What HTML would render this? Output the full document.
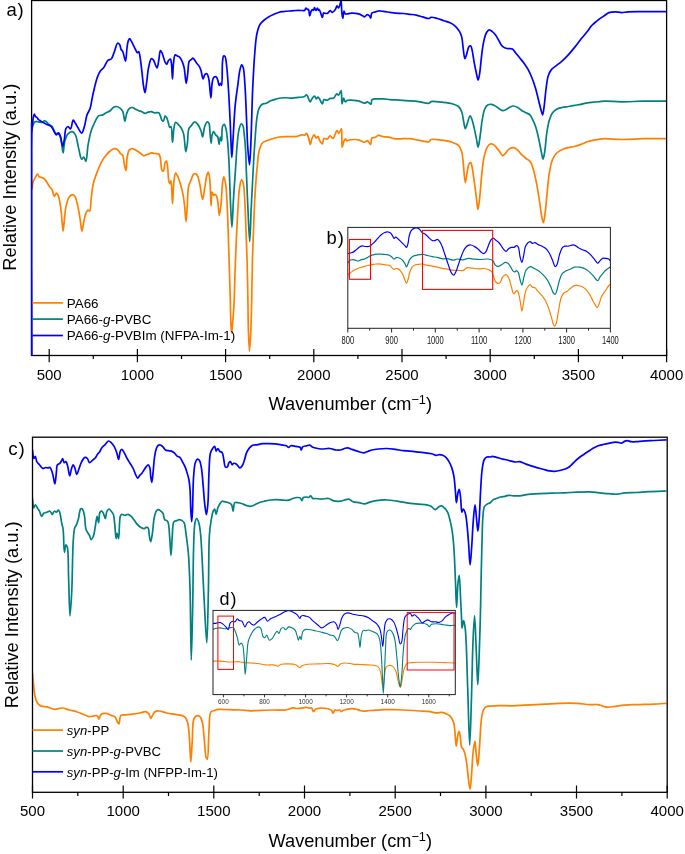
<!DOCTYPE html><html><head><meta charset="utf-8"><style>html,body{margin:0;padding:0;background:#fff;overflow:hidden}svg{display:block;will-change:transform}</style></head><body>
<svg width="685" height="854" viewBox="0 0 685 854" font-family="Liberation Sans, sans-serif">
<rect width="685" height="854" fill="#fff"/>
<defs><clipPath id="ct"><rect x="32" y="0" width="634" height="355.5"/></clipPath><clipPath id="cb"><rect x="32" y="437" width="634.5" height="355"/></clipPath><clipPath id="ci"><rect x="347.8" y="227.4" width="262.6" height="100.9"/></clipPath><clipPath id="cd"><rect x="213" y="610.4" width="242.3" height="84.2"/></clipPath></defs>
<path d="M32.10,189.00 C32.28,187.77 32.54,183.68 33.20,181.60 C33.72,179.96 34.56,178.69 35.30,177.40 C35.97,176.24 36.68,174.22 37.40,174.20 C38.09,174.18 38.69,176.49 39.50,177.00 C40.13,177.39 40.92,177.16 41.60,177.40 C42.32,177.65 43.04,178.01 43.70,178.50 C44.44,179.05 45.08,179.69 45.80,180.60 C46.83,181.90 47.89,184.18 49.00,185.80 C50.03,187.30 51.34,188.37 52.20,190.00 C53.17,191.84 53.47,196.29 54.30,196.40 C54.93,196.48 55.70,193.20 56.40,193.20 C57.10,193.20 57.91,194.95 58.50,196.40 C59.49,198.83 60.03,203.09 60.60,206.90 C61.28,211.40 61.65,217.31 62.10,221.70 C62.46,225.22 62.74,231.20 63.10,231.20 C63.50,231.20 63.94,223.55 64.40,219.60 C64.88,215.46 65.04,210.79 65.90,206.90 C66.66,203.46 67.59,199.49 69.00,197.40 C69.91,196.05 71.16,194.82 72.20,194.70 C73.05,194.61 73.98,195.14 74.70,196.00 C76.00,197.55 76.67,201.46 77.50,204.80 C78.56,209.07 79.44,214.96 80.20,219.60 C80.87,223.70 81.27,231.18 81.90,231.20 C82.48,231.21 83.11,224.77 83.80,221.70 C84.45,218.78 84.98,215.28 85.90,213.20 C86.50,211.84 87.25,210.27 88.00,210.10 C88.54,209.98 89.24,211.33 89.70,211.10 C90.87,210.52 90.63,202.87 91.20,198.50 C91.82,193.76 92.20,188.39 93.30,183.70 C94.34,179.28 96.00,174.97 97.50,171.10 C98.82,167.68 100.15,164.38 101.70,161.60 C103.03,159.22 104.49,157.14 106.00,155.30 C107.34,153.66 108.72,152.15 110.20,151.00 C111.53,149.97 113.07,148.73 114.40,148.60 C115.51,148.49 116.64,148.99 117.60,149.70 C118.79,150.58 119.72,153.00 120.70,153.90 C121.32,154.47 121.99,154.27 122.50,155.00 C123.62,156.60 123.84,162.14 124.50,165.00 C125.00,167.17 125.60,170.73 126.00,170.70 C126.59,170.65 126.45,161.71 127.10,158.00 C127.62,155.03 127.94,151.60 129.20,150.10 C130.03,149.11 131.34,148.59 132.40,148.60 C133.44,148.61 134.40,149.49 135.50,150.10 C136.84,150.84 138.40,151.83 139.80,152.80 C141.23,153.79 142.81,155.90 144.00,156.00 C144.80,156.07 145.31,155.23 146.10,154.90 C147.04,154.51 148.36,154.29 149.30,153.90 C150.09,153.57 150.61,152.90 151.40,152.80 C152.31,152.68 153.38,153.31 154.50,153.50 C155.81,153.72 157.82,153.22 158.80,154.00 C159.82,154.81 159.95,156.55 160.40,158.40 C161.11,161.32 160.86,168.24 161.90,170.00 C162.31,170.70 162.98,171.26 163.40,171.10 C164.32,170.74 164.32,164.26 165.10,162.60 C165.48,161.79 166.04,160.91 166.40,161.00 C167.01,161.15 167.25,164.48 167.60,166.90 C168.15,170.69 168.18,178.95 168.90,181.60 C169.19,182.65 169.58,183.72 169.90,183.70 C170.28,183.68 170.68,180.56 171.00,180.60 C171.85,180.72 172.01,203.80 172.50,203.80 C172.98,203.80 173.16,187.22 173.90,181.60 C174.36,178.11 174.74,173.37 175.60,173.20 C176.17,173.09 177.04,174.99 177.70,176.30 C178.65,178.19 179.48,180.99 180.30,183.70 C181.27,186.90 182.28,190.59 183.00,194.30 C183.78,198.30 184.21,202.53 184.70,206.90 C185.23,211.63 185.58,221.70 186.00,221.70 C186.42,221.70 186.79,212.27 187.20,206.90 C187.69,200.49 187.63,190.41 188.70,185.80 C189.25,183.42 190.04,182.42 190.80,180.60 C191.65,178.57 192.46,175.19 193.60,174.20 C194.24,173.64 195.06,173.39 195.70,173.60 C196.50,173.86 197.20,175.07 197.80,176.30 C198.76,178.28 199.20,181.57 199.90,184.80 C200.81,189.02 201.76,199.50 202.60,199.50 C203.35,199.50 204.00,191.85 204.70,187.90 C205.43,183.79 206.06,178.08 206.90,175.30 C207.34,173.85 207.88,172.06 208.30,172.10 C208.91,172.17 209.39,176.25 209.80,179.50 C210.56,185.57 210.65,205.89 211.10,205.90 C211.42,205.90 211.32,192.35 212.10,192.20 C212.49,192.13 212.96,195.11 213.60,195.30 C214.09,195.45 214.79,194.16 215.30,194.30 C215.98,194.49 216.55,196.10 217.00,197.40 C217.65,199.30 217.84,202.11 218.20,204.80 C218.63,207.99 218.83,215.29 219.30,215.30 C219.77,215.31 220.52,208.92 221.00,204.80 C221.68,198.99 221.84,188.80 222.50,183.70 C222.88,180.76 223.29,176.81 223.80,176.80 C224.37,176.79 225.27,181.69 225.80,185.20 C226.66,190.91 226.88,199.84 227.30,208.00 C227.78,217.43 228.04,227.77 228.40,238.50 C228.80,250.47 229.26,265.35 229.60,276.50 C229.87,285.27 230.10,292.30 230.30,300.00 C230.50,307.45 230.51,315.93 230.80,322.00 C231.01,326.30 231.30,333.00 231.60,333.00 C231.87,333.00 232.23,326.70 232.50,324.00 C232.72,321.80 232.90,320.54 233.10,318.00 C233.45,313.61 233.91,306.40 234.20,300.00 C234.53,292.69 234.60,285.27 234.90,276.50 C235.29,265.35 235.85,250.47 236.40,238.50 C236.89,227.77 237.42,217.06 238.00,208.00 C238.47,200.72 238.69,193.46 239.50,188.30 C240.03,184.89 240.72,179.98 241.50,179.90 C242.04,179.84 242.82,181.93 243.30,183.70 C244.27,187.24 244.39,194.00 244.80,200.40 C245.36,209.04 245.62,220.74 246.00,230.90 C246.38,241.04 246.79,250.55 247.10,261.30 C247.44,273.42 247.68,287.81 247.90,300.00 C248.10,310.91 248.07,321.78 248.40,331.00 C248.66,338.43 249.10,351.10 249.50,351.10 C249.90,351.10 250.45,338.43 250.80,331.00 C251.23,321.79 251.44,310.91 251.70,300.00 C251.99,287.82 252.07,273.42 252.40,261.30 C252.69,250.55 253.12,241.04 253.50,230.90 C253.88,220.74 254.20,209.83 254.70,200.40 C255.13,192.25 255.69,183.93 256.20,177.60 C256.56,173.08 256.92,169.90 257.30,166.00 C257.69,162.03 257.93,157.30 258.50,154.00 C258.91,151.64 259.34,149.85 260.00,148.00 C260.60,146.31 261.11,144.51 262.20,143.30 C263.26,142.13 264.81,141.53 266.40,140.80 C268.25,139.95 270.58,139.33 272.70,138.70 C274.82,138.07 276.80,137.36 279.10,137.00 C281.69,136.60 285.52,136.65 287.50,136.60 C288.58,136.57 288.95,136.62 290.00,136.60 C291.80,136.56 295.20,136.69 297.30,136.30 C298.98,135.99 300.37,134.95 301.70,134.80 C302.75,134.68 303.80,135.37 304.60,135.10 C305.34,134.85 305.85,133.32 306.40,133.40 C307.07,133.50 307.64,135.25 308.20,136.60 C309.03,138.63 309.75,144.61 310.40,144.60 C310.96,144.60 311.22,140.52 311.90,138.80 C312.49,137.30 313.34,134.83 314.10,134.80 C314.81,134.77 315.56,138.00 316.30,138.10 C316.86,138.17 317.49,136.49 318.00,136.60 C318.75,136.77 319.11,139.74 319.90,141.00 C320.61,142.13 321.76,144.05 322.40,143.90 C323.18,143.72 322.88,139.00 323.90,138.40 C324.69,137.93 326.22,139.51 327.20,139.20 C328.32,138.85 329.08,135.98 330.10,135.90 C331.06,135.83 332.15,138.60 333.10,138.40 C334.52,138.10 335.88,130.57 337.00,130.50 C337.70,130.46 338.25,133.43 338.90,133.40 C339.71,133.36 340.81,128.47 341.40,128.60 C342.50,128.85 341.35,147.41 342.10,147.50 C342.55,147.56 343.27,142.55 344.00,141.00 C344.46,140.03 345.01,138.79 345.50,138.80 C345.98,138.81 346.35,140.86 346.90,141.00 C347.34,141.12 347.71,140.42 348.40,140.20 C349.68,139.80 352.40,139.55 354.20,139.50 C355.77,139.46 357.06,139.42 358.60,139.80 C360.46,140.26 362.90,142.49 364.50,142.40 C365.66,142.33 366.48,140.54 367.40,140.70 C368.53,140.90 369.87,144.79 370.60,144.60 C371.44,144.38 370.71,139.23 371.80,138.10 C372.61,137.26 374.30,137.76 375.40,137.30 C376.46,136.85 377.15,135.60 378.30,135.40 C379.72,135.15 381.58,136.29 383.40,136.60 C385.45,136.95 388.08,136.88 390.00,137.30 C391.55,137.64 392.42,138.42 394.10,138.70 C396.58,139.11 400.75,138.70 403.60,138.70 C405.94,138.70 407.73,138.50 410.00,138.70 C412.62,138.93 415.43,139.73 418.40,140.20 C421.72,140.73 426.91,142.42 429.00,141.70 C430.11,141.31 429.99,139.93 431.10,139.50 C433.17,138.69 438.11,139.74 441.60,140.20 C445.14,140.67 449.18,141.28 452.20,142.30 C454.63,143.12 456.92,143.83 458.50,145.40 C460.10,146.99 460.93,149.32 461.70,151.80 C462.65,154.87 462.69,158.44 463.20,162.60 C463.89,168.26 464.53,182.67 465.30,182.70 C465.83,182.72 466.37,176.36 467.00,173.20 C467.63,170.03 468.03,165.24 469.10,163.70 C469.59,163.00 470.33,162.41 470.80,162.60 C471.65,162.93 471.90,166.49 472.40,169.00 C473.10,172.48 473.67,177.09 474.30,181.60 C475.03,186.82 475.85,193.48 476.50,198.50 C477.02,202.53 477.38,209.39 477.90,209.40 C478.42,209.41 479.07,202.82 479.60,198.50 C480.37,192.22 480.94,182.42 481.70,175.30 C482.35,169.22 482.76,163.37 483.80,158.40 C484.64,154.36 485.59,150.13 487.00,147.60 C487.92,145.94 489.01,144.44 490.20,144.00 C491.16,143.64 492.33,143.92 493.30,144.40 C494.46,144.97 495.47,146.42 496.50,147.60 C497.61,148.87 498.69,150.43 499.70,151.80 C500.65,153.09 501.43,155.42 502.40,155.60 C503.18,155.74 504.11,154.63 504.90,153.90 C505.82,153.05 506.60,151.63 507.50,150.70 C508.31,149.86 509.00,149.01 510.00,148.50 C511.10,147.94 512.65,147.38 513.90,147.60 C515.23,147.84 516.47,149.03 517.70,150.10 C519.15,151.37 520.45,153.46 521.90,154.90 C523.25,156.24 524.69,157.34 526.10,158.50 C527.49,159.64 529.15,160.25 530.30,161.80 C531.78,163.79 532.54,166.88 533.50,170.00 C534.71,173.94 535.66,178.88 536.60,183.70 C537.64,189.02 538.52,194.96 539.40,200.60 C540.28,206.23 541.03,213.50 541.90,217.50 C542.39,219.75 542.93,222.72 543.40,222.70 C544.02,222.67 544.57,217.00 545.10,213.20 C545.88,207.58 546.48,199.02 547.20,192.20 C547.88,185.71 548.31,178.99 549.30,173.20 C550.15,168.23 550.96,163.12 552.50,159.50 C553.64,156.81 554.92,154.73 556.70,153.00 C558.44,151.32 560.93,150.12 563.00,149.20 C564.79,148.40 566.44,148.04 568.30,147.60 C570.30,147.13 572.51,147.02 574.60,146.50 C576.74,145.96 578.89,145.20 581.00,144.40 C583.13,143.60 585.17,142.40 587.30,141.70 C589.37,141.02 591.49,140.63 593.60,140.20 C595.69,139.77 597.91,139.35 599.90,139.10 C601.68,138.87 602.81,138.73 605.00,138.70 C608.95,138.64 615.74,139.47 621.60,139.50 C628.19,139.53 635.41,138.84 642.60,138.70 C650.19,138.56 662.10,138.70 666.00,138.70" fill="none" stroke="#ff8000" stroke-width="1.7" stroke-linejoin="round" stroke-linecap="round" clip-path="url(#ct)"/>
<path d="M31.70,131.00 C31.88,130.17 32.34,127.50 32.80,126.00 C33.20,124.71 33.61,123.24 34.20,122.50 C34.58,122.02 34.95,121.75 35.50,121.60 C36.25,121.39 37.34,121.70 38.40,121.80 C39.69,121.92 41.67,122.64 42.70,122.30 C43.44,122.06 43.73,120.94 44.30,120.80 C44.78,120.68 45.25,120.89 45.80,121.20 C46.73,121.74 47.88,123.49 49.00,124.40 C50.03,125.23 51.26,125.44 52.20,126.50 C53.47,127.94 53.89,131.38 55.30,132.80 C56.45,133.96 58.48,133.62 59.50,134.90 C60.89,136.63 61.01,140.40 61.60,143.30 C62.22,146.36 62.59,152.80 63.10,152.80 C63.66,152.80 63.83,144.56 64.80,141.20 C65.60,138.43 66.51,135.50 68.00,133.90 C69.15,132.67 70.96,131.51 72.20,131.70 C73.42,131.89 74.50,133.31 75.40,134.90 C76.92,137.61 77.43,143.47 78.50,147.60 C79.53,151.56 80.42,158.88 81.70,159.20 C82.35,159.36 83.16,156.90 83.80,157.00 C84.60,157.12 85.31,161.40 85.90,161.30 C86.98,161.12 87.10,150.58 88.00,145.40 C88.88,140.39 89.93,134.72 91.20,130.70 C92.13,127.76 93.09,125.73 94.30,123.30 C95.55,120.79 96.85,117.20 98.60,115.90 C99.84,114.98 101.54,115.44 102.80,114.90 C103.99,114.39 104.84,113.47 106.00,112.80 C107.29,112.06 108.97,111.60 110.20,110.70 C111.40,109.82 112.16,108.20 113.30,107.50 C114.29,106.89 115.44,106.44 116.50,106.50 C117.58,106.56 118.72,107.16 119.70,107.90 C120.86,108.78 121.99,110.03 122.80,111.70 C123.94,114.06 124.23,121.20 124.90,121.20 C125.49,121.20 125.81,116.01 126.60,113.80 C127.29,111.87 128.03,109.62 129.20,108.60 C130.09,107.82 131.36,107.41 132.40,107.50 C133.46,107.59 134.45,108.67 135.50,109.20 C136.55,109.73 137.62,110.28 138.70,110.70 C139.75,111.11 140.86,111.26 141.90,111.70 C142.96,112.15 143.94,113.34 145.00,113.40 C146.04,113.46 147.11,112.38 148.20,112.10 C149.25,111.83 150.35,111.59 151.40,111.70 C152.46,111.81 153.36,112.60 154.50,112.80 C155.80,113.02 157.81,112.20 158.80,112.80 C159.69,113.34 159.91,114.76 160.40,115.90 C160.96,117.20 161.22,119.32 161.90,120.20 C162.33,120.75 162.96,121.35 163.40,121.20 C164.17,120.93 164.39,116.03 165.10,115.90 C165.60,115.81 166.32,117.12 166.80,118.00 C167.42,119.14 167.74,120.79 168.20,122.30 C168.71,123.95 169.01,127.28 169.70,127.50 C170.08,127.62 170.63,126.34 171.00,126.50 C172.14,127.00 172.00,142.30 172.50,142.30 C172.97,142.30 173.22,132.27 173.90,128.60 C174.37,126.07 174.66,122.61 175.60,122.30 C176.27,122.08 177.36,123.59 178.20,124.40 C179.13,125.30 180.09,126.20 180.90,127.50 C181.95,129.19 182.87,131.17 183.60,133.90 C184.78,138.31 185.04,151.78 185.80,151.80 C186.32,151.82 186.93,146.53 187.40,143.30 C188.01,139.08 187.65,131.62 188.90,128.60 C189.56,127.01 190.59,126.49 191.50,125.40 C192.48,124.23 193.51,121.90 194.60,121.80 C195.62,121.71 196.84,123.21 197.80,124.40 C199.05,125.95 200.19,128.55 201.00,130.70 C201.77,132.76 202.06,137.01 202.60,137.00 C203.29,136.98 203.69,129.25 204.70,126.50 C205.41,124.56 206.43,121.95 207.30,121.80 C207.87,121.70 208.57,122.46 209.00,123.30 C209.89,125.03 209.66,129.55 210.00,132.80 C210.36,136.21 210.73,143.30 211.10,143.30 C211.43,143.30 211.50,137.00 212.10,134.90 C212.49,133.54 213.02,131.74 213.60,131.70 C214.21,131.66 214.95,133.98 215.70,134.90 C216.36,135.71 217.27,135.97 217.80,137.00 C218.65,138.64 218.67,144.40 219.10,144.40 C219.53,144.40 219.91,137.03 220.40,137.00 C220.77,136.98 221.28,141.04 221.60,141.00 C222.19,140.93 221.49,129.09 222.50,126.50 C222.93,125.38 223.69,124.32 224.20,124.40 C224.86,124.50 225.43,126.85 225.90,128.60 C226.62,131.28 226.96,134.99 227.40,139.10 C228.02,144.91 228.58,154.50 228.90,160.20 C229.12,164.08 229.14,165.83 229.30,170.00 C229.58,177.34 229.95,190.60 230.40,200.40 C230.82,209.59 231.40,227.10 231.90,227.10 C232.40,227.10 232.88,208.95 233.40,200.40 C233.88,192.50 234.43,184.48 234.90,177.60 C235.29,171.91 235.66,167.10 236.00,162.00 C236.33,157.10 236.45,152.66 236.90,147.60 C237.41,141.93 237.97,133.85 239.00,129.60 C239.59,127.16 240.25,124.23 241.10,124.00 C241.61,123.86 242.34,124.59 242.80,125.40 C243.76,127.08 243.86,131.27 244.30,134.90 C244.88,139.72 245.37,146.06 245.70,151.80 C246.04,157.75 246.03,162.83 246.30,170.00 C246.69,180.36 247.31,195.73 247.90,208.00 C248.45,219.52 249.15,241.50 249.70,241.50 C250.25,241.50 250.71,218.09 251.20,208.00 C251.61,199.67 252.00,192.83 252.40,185.20 C252.80,177.50 253.18,169.32 253.60,162.00 C253.98,155.43 254.31,150.00 254.80,143.30 C255.37,135.50 255.93,124.36 256.90,118.00 C257.50,114.08 257.88,111.04 259.00,108.60 C259.83,106.78 260.87,105.17 262.20,104.30 C263.39,103.52 265.04,103.85 266.40,103.30 C267.85,102.71 269.08,101.49 270.60,100.80 C272.23,100.07 274.12,99.57 275.90,99.10 C277.65,98.64 279.22,98.20 281.20,98.00 C283.67,97.75 288.60,97.88 289.60,98.00 C289.82,98.03 289.78,98.08 290.00,98.10 C291.03,98.19 296.18,97.73 298.80,97.40 C300.94,97.13 303.27,97.01 304.60,96.40 C305.44,96.01 305.86,94.84 306.40,94.90 C306.93,94.96 307.32,95.91 307.80,96.70 C308.54,97.94 309.33,101.75 310.10,101.80 C310.70,101.84 311.20,99.84 311.90,98.90 C312.65,97.90 313.75,95.93 314.50,96.00 C315.20,96.06 315.67,98.84 316.30,98.90 C316.84,98.95 317.43,96.97 318.00,97.00 C318.64,97.03 319.25,98.60 319.90,99.60 C320.71,100.86 321.73,104.06 322.40,104.00 C323.05,103.94 322.97,100.13 323.90,99.60 C324.69,99.15 326.17,100.49 327.20,100.30 C328.24,100.10 329.02,98.77 330.10,98.40 C331.21,98.02 332.76,98.71 333.80,98.10 C335.03,97.38 335.75,93.96 336.70,93.80 C337.34,93.69 338.00,95.34 338.60,95.20 C339.50,94.99 340.52,90.37 341.10,90.50 C342.03,90.70 341.38,103.93 342.00,104.00 C342.42,104.05 343.10,98.13 343.70,98.10 C344.18,98.07 344.44,101.55 345.20,101.80 C345.85,102.02 346.67,100.58 347.70,100.30 C349.06,99.92 351.05,100.22 352.80,100.30 C354.67,100.38 356.69,100.34 358.60,100.80 C360.60,101.28 362.89,103.25 364.50,103.20 C365.65,103.16 366.40,101.72 367.40,101.80 C368.56,101.89 370.23,104.60 371.00,104.30 C371.81,103.98 371.00,100.52 372.00,99.60 C373.08,98.60 375.71,99.02 377.60,98.90 C379.51,98.78 381.41,98.79 383.40,98.90 C385.53,99.01 387.60,99.41 390.00,99.60 C392.85,99.83 396.17,99.91 399.40,100.10 C402.83,100.30 406.67,100.53 410.00,100.80 C412.96,101.04 415.44,101.22 418.40,101.60 C421.73,102.03 426.89,103.86 429.00,103.30 C430.06,103.02 430.04,101.94 431.10,101.60 C433.19,100.93 438.10,101.85 441.60,102.20 C445.13,102.55 449.18,102.83 452.20,103.70 C454.63,104.40 456.90,105.10 458.50,106.50 C460.01,107.82 460.87,109.57 461.70,111.70 C462.81,114.53 463.13,119.23 463.80,122.30 C464.32,124.68 464.70,128.55 465.30,128.60 C465.80,128.64 466.37,126.05 467.00,124.40 C467.90,122.07 469.11,115.95 470.10,115.90 C470.82,115.86 471.58,118.49 472.20,120.20 C473.04,122.50 473.62,125.64 474.30,128.60 C475.06,131.90 475.83,135.84 476.50,139.10 C477.08,141.95 477.55,147.10 478.10,147.10 C478.71,147.10 479.39,140.80 480.00,137.00 C480.78,132.12 481.28,125.26 482.20,120.20 C482.97,115.96 483.54,111.31 484.90,108.60 C485.78,106.85 486.90,105.48 488.10,104.80 C489.05,104.26 490.17,104.21 491.20,104.30 C492.27,104.39 493.36,104.89 494.40,105.40 C495.50,105.94 496.59,106.78 497.60,107.50 C498.55,108.18 499.38,109.05 500.30,109.60 C501.12,110.09 501.91,110.66 502.80,110.70 C503.79,110.74 504.96,110.11 506.00,109.60 C507.10,109.06 508.02,108.09 509.20,107.50 C510.47,106.87 511.99,106.01 513.40,106.00 C514.82,105.99 516.33,106.76 517.70,107.50 C519.17,108.29 520.46,109.80 521.90,110.70 C523.26,111.55 524.74,112.09 526.10,112.80 C527.41,113.49 528.87,113.90 529.90,114.90 C531.00,115.96 531.57,117.47 532.40,119.10 C533.47,121.19 534.63,123.66 535.60,126.50 C536.83,130.10 537.85,134.88 538.80,139.10 C539.75,143.31 540.52,148.15 541.30,151.80 C541.90,154.57 542.43,159.10 543.00,159.10 C543.57,159.10 544.18,154.82 544.70,151.80 C545.53,146.97 545.93,138.47 546.80,132.80 C547.52,128.15 548.18,123.79 549.30,120.20 C550.19,117.35 551.09,114.71 552.50,112.80 C553.67,111.22 555.12,110.08 556.70,109.20 C558.29,108.31 560.14,107.94 562.00,107.50 C563.99,107.03 566.20,106.85 568.30,106.50 C570.40,106.15 572.49,105.77 574.60,105.40 C576.72,105.03 578.88,104.72 581.00,104.30 C583.11,103.88 585.19,103.25 587.30,102.90 C589.39,102.55 591.50,102.42 593.60,102.20 C595.70,101.98 597.91,101.77 599.90,101.60 C601.69,101.44 602.81,101.25 605.00,101.20 C608.94,101.12 615.74,101.78 621.60,101.80 C628.19,101.82 635.41,101.30 642.60,101.20 C650.19,101.09 662.10,101.20 666.00,101.20" fill="none" stroke="#008080" stroke-width="1.7" stroke-linejoin="round" stroke-linecap="round" clip-path="url(#ct)"/>
<path d="M31.60,355.00 C31.60,317.67 30.16,153.42 31.60,131.00 C31.85,127.02 32.20,126.33 32.50,124.00 C32.80,121.67 32.97,118.79 33.40,117.00 C33.68,115.84 34.03,114.22 34.40,114.20 C34.74,114.18 35.01,115.93 35.50,116.50 C35.91,116.98 36.55,117.06 37.00,117.50 C37.53,118.02 37.86,118.99 38.40,119.50 C38.88,119.95 39.40,120.11 40.00,120.50 C40.79,121.01 41.68,121.71 42.70,122.30 C43.93,123.01 45.50,123.70 46.90,124.40 C48.30,125.10 49.92,125.41 51.10,126.50 C52.46,127.75 53.33,130.28 54.30,131.80 C55.06,132.98 55.65,134.83 56.40,134.90 C57.06,134.96 57.86,132.70 58.50,132.80 C59.30,132.93 59.99,135.27 60.60,137.00 C61.48,139.49 62.03,146.50 62.70,146.50 C63.29,146.50 63.90,141.79 64.40,139.10 C64.99,135.92 64.86,130.68 65.90,128.60 C66.45,127.50 67.27,126.50 68.00,126.50 C68.80,126.50 69.77,129.18 70.50,129.00 C71.67,128.71 72.15,120.37 73.20,120.20 C73.87,120.09 74.63,122.11 75.40,123.30 C76.38,124.81 77.42,126.92 78.50,128.60 C79.53,130.21 80.76,133.31 81.70,133.20 C82.77,133.08 83.60,129.08 84.40,126.50 C85.43,123.20 85.86,118.13 87.00,114.90 C87.87,112.42 89.28,111.03 90.10,108.60 C91.12,105.58 91.48,101.43 92.20,98.00 C92.88,94.74 93.48,91.81 94.30,88.50 C95.21,84.81 96.25,80.13 97.50,76.90 C98.46,74.43 99.50,72.26 100.70,70.60 C101.65,69.29 102.77,68.84 103.80,67.50 C105.24,65.63 106.52,61.41 108.10,60.10 C109.08,59.29 110.30,59.84 111.20,59.00 C112.60,57.69 113.36,54.16 114.40,51.60 C115.50,48.90 116.38,43.57 117.60,43.20 C118.26,43.00 119.15,43.93 119.70,44.70 C120.46,45.77 120.46,48.27 121.10,49.50 C121.57,50.40 122.27,50.57 122.80,51.60 C123.82,53.57 124.82,61.16 125.50,61.10 C126.29,61.04 126.47,51.67 127.00,48.00 C127.38,45.33 127.60,42.79 128.20,41.10 C128.58,40.02 129.09,38.62 129.60,38.60 C130.12,38.58 130.74,40.14 131.30,41.10 C132.00,42.30 132.70,43.90 133.40,45.30 C134.10,46.70 134.83,48.20 135.50,49.50 C136.09,50.64 136.56,52.55 137.20,52.70 C137.66,52.81 138.28,51.45 138.70,51.60 C139.49,51.89 139.74,55.45 140.20,58.00 C140.86,61.69 141.34,67.05 141.90,71.70 C142.48,76.51 142.95,82.54 143.60,86.40 C144.03,88.95 144.54,92.71 145.00,92.70 C145.58,92.68 146.15,86.00 146.70,82.20 C147.35,77.72 147.66,71.75 148.60,67.50 C149.34,64.13 150.21,59.00 151.40,58.60 C152.03,58.39 152.89,59.33 153.50,60.10 C154.40,61.24 154.91,63.88 155.60,65.30 C156.11,66.34 156.66,67.97 157.10,67.90 C157.82,67.79 158.27,62.83 158.80,60.10 C159.38,57.10 159.58,50.79 160.40,50.60 C160.82,50.50 161.45,51.84 161.90,52.70 C162.49,53.83 162.90,55.41 163.40,56.90 C163.96,58.56 164.39,60.88 165.10,62.20 C165.60,63.12 166.31,64.37 166.80,64.30 C167.36,64.22 167.57,62.00 168.20,61.10 C168.79,60.26 169.87,58.84 170.40,59.00 C171.03,59.19 171.12,61.34 171.40,63.20 C171.95,66.77 172.15,79.00 172.50,79.00 C172.85,79.00 172.91,67.62 173.50,63.20 C173.93,59.94 174.13,55.31 175.20,54.80 C175.76,54.53 176.60,55.55 177.30,55.90 C178.00,56.25 178.74,56.31 179.40,56.90 C180.36,57.76 181.26,59.50 182.00,61.10 C182.87,62.96 183.50,64.86 184.10,67.50 C185.03,71.56 185.53,83.29 186.20,83.30 C186.72,83.31 187.22,77.20 187.70,73.80 C188.26,69.88 188.06,63.28 189.30,61.10 C189.88,60.09 190.86,59.96 191.50,59.40 C192.04,58.93 192.42,57.98 192.90,58.00 C193.46,58.03 194.02,59.32 194.60,60.10 C195.28,61.02 195.94,62.17 196.70,63.20 C197.50,64.28 198.59,65.20 199.30,66.40 C200.04,67.66 200.46,68.94 201.00,70.60 C201.75,72.90 202.38,78.96 203.10,79.00 C203.62,79.03 203.90,75.65 204.70,74.80 C205.29,74.17 206.29,73.55 206.90,73.80 C207.82,74.19 208.26,76.68 208.80,79.00 C209.81,83.31 210.33,98.01 210.90,98.00 C211.40,97.99 211.46,87.04 212.10,83.30 C212.50,80.94 212.65,78.57 213.60,77.60 C214.23,76.96 215.43,76.61 216.10,76.90 C216.89,77.24 217.33,78.87 217.80,80.10 C218.38,81.61 218.54,85.31 219.10,85.40 C219.48,85.46 219.98,83.29 220.40,83.30 C220.81,83.31 221.27,85.48 221.60,85.40 C222.61,85.15 221.92,67.23 222.50,62.00 C222.79,59.33 222.85,56.43 223.60,56.00 C223.97,55.79 224.60,56.02 225.00,56.50 C226.10,57.82 226.29,63.23 226.80,67.50 C227.50,73.37 227.90,80.78 228.40,88.50 C229.02,97.98 229.63,110.28 230.10,120.20 C230.51,128.97 230.77,138.15 231.10,145.00 C231.33,149.84 231.53,157.40 231.80,157.40 C232.07,157.40 232.44,148.91 232.70,145.00 C232.93,141.49 233.04,139.22 233.30,135.00 C233.75,127.75 234.33,114.42 235.20,105.40 C235.93,97.76 237.03,90.70 237.90,84.30 C238.62,78.96 239.12,73.11 240.00,69.60 C240.51,67.56 241.09,64.95 241.70,64.90 C242.17,64.86 242.78,66.19 243.20,67.50 C244.20,70.61 244.42,77.82 244.90,84.30 C245.56,93.18 245.92,105.36 246.40,115.90 C246.88,126.46 247.16,138.64 247.80,147.60 C248.27,154.21 249.01,164.81 249.50,164.80 C250.02,164.79 250.39,153.30 250.80,145.00 C251.49,131.00 251.93,105.19 252.70,88.50 C253.31,75.21 253.95,62.75 254.80,52.70 C255.42,45.36 255.75,38.90 256.90,33.70 C257.73,29.94 258.61,26.61 260.10,24.20 C261.25,22.35 262.85,21.25 264.30,20.00 C265.66,18.83 266.97,17.83 268.50,16.90 C270.12,15.91 272.02,15.09 273.80,14.30 C275.55,13.52 277.41,12.65 279.10,12.20 C280.56,11.81 281.76,11.78 283.30,11.60 C285.19,11.38 287.50,11.18 289.60,11.00 C291.70,10.82 293.79,10.58 295.90,10.50 C298.02,10.42 300.70,10.50 302.30,10.50 C303.26,10.50 304.00,10.85 304.60,10.50 C305.27,10.11 305.47,8.07 306.00,8.00 C306.45,7.94 307.01,9.30 307.50,9.50 C307.84,9.64 308.22,9.26 308.50,9.50 C309.23,10.11 309.21,15.97 309.70,16.00 C310.13,16.02 310.57,12.14 311.20,11.00 C311.59,10.30 312.09,9.51 312.50,9.50 C312.85,9.49 313.21,10.57 313.50,10.50 C313.93,10.40 314.09,7.63 314.50,7.60 C314.92,7.57 315.50,10.49 316.00,10.50 C316.47,10.51 316.98,7.98 317.40,8.00 C317.81,8.02 318.14,10.46 318.50,10.50 C318.74,10.52 318.95,9.47 319.20,9.50 C319.64,9.55 320.20,11.75 320.70,13.00 C321.26,14.40 321.91,17.52 322.40,17.50 C322.88,17.48 322.79,13.50 323.60,13.00 C324.19,12.64 325.24,13.52 326.00,13.50 C326.70,13.49 327.38,13.39 328.00,13.00 C328.78,12.51 329.36,10.56 330.10,10.50 C330.80,10.44 331.52,12.42 332.30,12.40 C333.23,12.37 334.51,10.61 335.30,9.50 C336.08,8.41 336.40,5.85 337.00,5.80 C337.48,5.76 338.02,8.06 338.50,8.00 C339.18,7.92 339.94,4.27 340.40,2.90 C340.71,1.99 340.91,0.58 341.10,0.60 C341.53,0.65 341.43,9.17 341.80,12.40 C342.06,14.68 342.45,18.20 342.80,18.20 C343.18,18.20 343.47,11.06 344.00,11.00 C344.35,10.96 344.58,13.48 345.20,13.90 C345.67,14.22 346.28,13.97 347.00,13.90 C348.13,13.80 349.67,13.16 351.30,13.10 C353.41,13.02 356.52,13.31 358.60,13.90 C360.30,14.38 361.92,15.46 363.00,16.00 C363.64,16.32 363.93,16.85 364.50,16.80 C365.33,16.73 366.50,14.63 367.40,14.60 C368.15,14.58 368.95,15.40 369.50,16.00 C370.05,16.60 370.36,18.25 370.70,18.20 C371.19,18.13 370.90,14.11 371.80,13.10 C372.52,12.29 373.92,12.35 375.00,12.00 C376.09,11.65 377.07,11.13 378.30,11.00 C379.80,10.84 381.59,11.19 383.40,11.40 C385.46,11.64 387.93,12.10 390.00,12.40 C391.84,12.66 393.26,12.92 395.20,13.10 C397.66,13.32 400.99,13.28 403.60,13.50 C405.88,13.70 407.88,14.02 410.00,14.30 C412.11,14.58 414.20,14.77 416.30,15.20 C418.44,15.64 420.57,16.35 422.70,16.90 C424.81,17.45 427.49,18.71 429.00,18.50 C429.92,18.37 430.18,17.45 431.10,17.30 C432.61,17.05 435.31,17.95 437.40,18.50 C439.55,19.07 441.67,19.98 443.80,20.70 C445.91,21.41 448.15,21.85 450.10,22.80 C452.01,23.73 453.84,24.86 455.40,26.30 C457.01,27.78 458.53,29.75 459.60,31.60 C460.58,33.30 461.14,34.75 461.70,36.90 C462.50,39.98 462.65,44.77 463.20,48.50 C463.72,51.99 464.17,58.51 464.90,58.60 C465.37,58.65 465.94,56.33 466.50,54.80 C467.31,52.56 467.95,47.47 469.10,46.40 C469.61,45.92 470.34,45.74 470.80,46.00 C471.56,46.44 471.75,48.67 472.20,50.60 C472.94,53.75 473.55,59.19 474.30,63.20 C474.99,66.89 475.79,70.73 476.50,73.80 C477.05,76.18 477.58,80.10 478.10,80.10 C478.62,80.10 479.13,76.48 479.60,73.80 C480.40,69.19 480.93,60.61 481.70,54.80 C482.35,49.85 482.88,45.08 483.80,41.10 C484.53,37.93 485.24,34.66 486.40,32.70 C487.17,31.40 488.10,30.06 489.10,29.90 C490.07,29.75 491.30,30.85 492.30,31.60 C493.41,32.44 494.43,33.54 495.40,34.80 C496.55,36.29 497.62,38.39 498.60,40.10 C499.50,41.68 500.13,43.43 501.10,44.70 C501.93,45.80 502.87,46.76 503.90,47.40 C504.85,47.99 505.80,48.25 507.00,48.50 C508.53,48.82 510.97,48.15 512.40,48.90 C513.76,49.61 514.38,51.33 515.50,52.70 C516.82,54.32 518.38,56.24 519.80,58.00 C521.21,59.74 522.64,61.34 524.00,63.20 C525.45,65.19 526.92,67.27 528.20,69.60 C529.61,72.16 530.82,75.01 532.00,78.00 C533.30,81.28 534.50,84.81 535.60,88.50 C536.79,92.51 537.85,97.40 538.80,101.20 C539.58,104.29 540.20,107.13 540.90,109.60 C541.46,111.58 542.11,114.93 542.60,114.90 C543.17,114.86 543.54,110.55 544.00,107.50 C544.73,102.64 545.31,94.18 546.10,88.50 C546.74,83.86 547.08,79.31 548.20,75.90 C549.03,73.36 549.96,71.38 551.40,69.60 C552.81,67.85 554.93,66.72 556.70,65.30 C558.46,63.89 560.20,62.70 562.00,61.10 C564.06,59.26 566.24,57.03 568.30,54.80 C570.45,52.47 572.53,49.97 574.60,47.40 C576.76,44.72 578.84,41.68 581.00,39.00 C583.07,36.43 585.46,33.97 587.30,31.60 C588.89,29.56 589.90,27.46 591.50,25.70 C593.07,23.97 595.12,22.47 596.80,21.10 C598.26,19.91 599.60,18.90 601.00,17.90 C602.34,16.94 603.67,16.09 605.00,15.20 C606.31,14.32 607.36,13.17 608.90,12.60 C610.70,11.93 613.18,11.80 615.30,11.80 C617.41,11.80 619.50,12.60 621.60,12.60 C623.70,12.60 625.36,11.98 627.90,11.80 C631.77,11.53 637.13,11.64 642.60,11.60 C649.50,11.55 662.10,11.60 666.00,11.60" fill="none" stroke="#0000ff" stroke-width="1.7" stroke-linejoin="round" stroke-linecap="round" clip-path="url(#ct)"/>
<rect x="31.6" y="0.5" width="635.0" height="355.0" fill="none" stroke="#000" stroke-width="1.3"/>
<line x1="31.6" y1="122" x2="31.6" y2="355.5" stroke="#0000ff" stroke-width="1.6"/>
<line x1="49.2" y1="349" x2="49.2" y2="362.3" stroke="#000" stroke-width="1.2"/>
<text x="49.2" y="380" font-size="15" text-anchor="middle" fill="#000">500</text>
<line x1="137.4" y1="349" x2="137.4" y2="362.3" stroke="#000" stroke-width="1.2"/>
<text x="137.4" y="380" font-size="15" text-anchor="middle" fill="#000">1000</text>
<line x1="225.6" y1="349" x2="225.6" y2="362.3" stroke="#000" stroke-width="1.2"/>
<text x="225.6" y="380" font-size="15" text-anchor="middle" fill="#000">1500</text>
<line x1="313.8" y1="349" x2="313.8" y2="362.3" stroke="#000" stroke-width="1.2"/>
<text x="313.8" y="380" font-size="15" text-anchor="middle" fill="#000">2000</text>
<line x1="402.0" y1="349" x2="402.0" y2="362.3" stroke="#000" stroke-width="1.2"/>
<text x="402.0" y="380" font-size="15" text-anchor="middle" fill="#000">2500</text>
<line x1="490.2" y1="349" x2="490.2" y2="362.3" stroke="#000" stroke-width="1.2"/>
<text x="490.2" y="380" font-size="15" text-anchor="middle" fill="#000">3000</text>
<line x1="578.4" y1="349" x2="578.4" y2="362.3" stroke="#000" stroke-width="1.2"/>
<text x="578.4" y="380" font-size="15" text-anchor="middle" fill="#000">3500</text>
<line x1="666.6" y1="349" x2="666.6" y2="362.3" stroke="#000" stroke-width="1.2"/>
<text x="666.6" y="380" font-size="15" text-anchor="middle" fill="#000">4000</text>
<line x1="93.3" y1="355.5" x2="93.3" y2="359" stroke="#000" stroke-width="1.2"/>
<line x1="181.5" y1="355.5" x2="181.5" y2="359" stroke="#000" stroke-width="1.2"/>
<line x1="269.7" y1="355.5" x2="269.7" y2="359" stroke="#000" stroke-width="1.2"/>
<line x1="357.9" y1="355.5" x2="357.9" y2="359" stroke="#000" stroke-width="1.2"/>
<line x1="446.1" y1="355.5" x2="446.1" y2="359" stroke="#000" stroke-width="1.2"/>
<line x1="534.3" y1="355.5" x2="534.3" y2="359" stroke="#000" stroke-width="1.2"/>
<line x1="622.5" y1="355.5" x2="622.5" y2="359" stroke="#000" stroke-width="1.2"/>
<text x="6.5" y="16" font-size="18.5" letter-spacing="0.8" fill="#000">a)</text>
<text x="350.3" y="409.5" font-size="18.2" text-anchor="middle" fill="#000">Wavenumber (cm<tspan font-size="12.8" dy="-5.6">−1</tspan><tspan dy="5.6">)</tspan></text>
<text transform="translate(15.5,177.2) rotate(-90)" font-size="18.3" text-anchor="middle" fill="#000">Relative Intensity (a.u.)</text>
<line x1="32.5" y1="302.9" x2="62.9" y2="302.9" stroke="#ff8000" stroke-width="1.7"/>
<line x1="32.5" y1="319.1" x2="62.9" y2="319.1" stroke="#008080" stroke-width="1.7"/>
<line x1="32.5" y1="335.5" x2="62.9" y2="335.5" stroke="#0000ff" stroke-width="1.7"/>
<text x="66.8" y="307.6" font-size="13.4" fill="#000">PA66</text>
<text x="66.8" y="323.8" font-size="13.4" fill="#000">PA66-<tspan font-style="italic">g</tspan>-PVBC</text>
<text x="66.8" y="340.2" font-size="13.4" fill="#000">PA66-<tspan font-style="italic">g</tspan>-PVBIm (NFPA-Im-1)</text>
<rect x="347.8" y="227.4" width="262.59999999999997" height="100.9" fill="#fff" stroke="none"/>
<path d="M347.80,274.80 C348.30,274.42 349.75,273.26 350.80,272.50 C351.91,271.69 353.10,270.78 354.30,270.10 C355.44,269.46 356.61,268.97 357.80,268.50 C358.98,268.04 360.17,267.69 361.40,267.30 C362.70,266.89 364.05,266.45 365.40,266.10 C366.75,265.75 368.13,265.50 369.50,265.20 C370.87,264.90 372.23,264.53 373.60,264.30 C374.96,264.07 376.29,263.81 377.70,263.80 C379.21,263.79 380.84,264.10 382.40,264.30 C383.94,264.50 385.64,264.72 387.00,265.00 C388.11,265.23 389.12,265.29 390.00,265.80 C390.90,266.32 391.57,267.43 392.30,268.10 C392.92,268.67 393.50,269.56 394.10,269.60 C394.66,269.63 395.16,268.63 395.80,268.50 C396.48,268.36 397.37,268.57 398.10,268.90 C398.94,269.28 399.77,269.98 400.50,270.80 C401.37,271.79 402.13,273.24 402.80,274.60 C403.51,276.03 403.97,277.72 404.60,279.20 C405.20,280.62 405.91,283.32 406.50,283.30 C407.08,283.28 407.61,280.77 408.10,279.20 C408.73,277.19 409.06,274.33 409.80,272.20 C410.46,270.30 411.16,268.24 412.20,267.00 C413.02,266.03 414.04,265.45 415.10,265.00 C416.17,264.55 417.43,264.47 418.60,264.30 C419.76,264.13 421.00,263.90 422.10,264.00 C423.12,264.09 423.90,264.55 425.00,264.80 C426.41,265.12 428.17,265.37 429.90,265.70 C431.85,266.07 434.04,266.47 436.10,266.90 C438.17,267.33 440.23,267.88 442.30,268.30 C444.36,268.72 446.55,269.03 448.50,269.40 C450.26,269.73 451.83,270.23 453.50,270.40 C455.16,270.56 456.84,270.40 458.50,270.40 C460.14,270.40 461.94,270.87 463.40,270.40 C464.83,269.94 465.77,268.08 467.20,267.70 C468.67,267.31 470.37,268.01 472.10,268.20 C474.05,268.41 476.23,268.85 478.30,268.90 C480.36,268.95 482.63,268.29 484.50,268.50 C486.11,268.68 487.63,269.22 488.90,269.80 C489.98,270.29 491.00,270.74 491.70,271.60 C492.48,272.55 492.69,274.01 493.20,275.40 C493.81,277.06 494.22,279.50 495.10,280.90 C495.78,281.99 496.71,283.19 497.60,283.40 C498.36,283.58 499.29,283.22 500.00,282.60 C501.09,281.64 501.46,278.58 502.60,277.20 C503.57,276.03 505.07,274.46 506.10,274.60 C507.14,274.74 508.02,276.58 508.80,278.10 C509.92,280.28 510.54,284.06 511.40,286.80 C512.17,289.27 512.79,293.58 513.70,293.80 C514.22,293.92 514.83,292.67 515.40,292.10 C515.99,291.51 516.68,290.19 517.20,290.30 C517.91,290.45 518.39,292.92 518.90,294.70 C519.63,297.26 520.17,301.39 520.70,304.30 C521.15,306.73 521.47,310.99 521.90,311.00 C522.33,311.01 522.81,306.87 523.30,304.30 C523.96,300.84 524.39,295.33 525.40,292.10 C526.11,289.82 527.03,287.79 528.00,286.50 C528.65,285.64 529.40,284.66 530.10,284.70 C530.87,284.75 531.52,286.71 532.40,287.20 C533.18,287.63 534.21,287.21 535.00,287.70 C536.02,288.33 536.66,290.00 537.70,291.20 C538.93,292.62 540.70,294.01 542.00,295.60 C543.31,297.21 544.42,298.78 545.50,300.80 C546.83,303.29 548.06,306.64 549.10,309.60 C550.12,312.51 550.93,315.73 551.70,318.40 C552.34,320.62 552.69,323.14 553.40,324.50 C553.82,325.30 554.36,326.26 554.80,326.20 C555.38,326.12 555.91,324.28 556.40,322.70 C557.31,319.76 557.87,313.89 558.70,309.60 C559.51,305.43 560.12,300.28 561.30,297.30 C562.04,295.42 562.79,294.03 563.90,293.00 C564.88,292.09 566.22,292.02 567.40,291.20 C568.85,290.20 570.35,288.20 571.80,287.20 C572.98,286.38 573.97,285.64 575.30,285.40 C576.85,285.12 578.97,285.45 580.60,286.00 C582.20,286.53 583.64,287.43 585.00,288.60 C586.57,289.94 588.02,291.86 589.30,293.80 C590.68,295.89 591.72,298.64 592.90,300.80 C593.95,302.70 595.10,304.94 596.00,306.10 C596.51,306.76 596.96,307.57 597.40,307.50 C597.99,307.40 598.45,305.62 599.00,304.30 C599.83,302.29 600.49,298.79 601.60,296.50 C602.58,294.49 603.93,292.96 605.10,291.20 C606.26,289.46 607.57,287.25 608.60,286.00 C609.26,285.20 610.10,284.50 610.40,284.20" fill="none" stroke="#ff8000" stroke-width="1.2" stroke-linejoin="round" stroke-linecap="round" clip-path="url(#ci)"/>
<path d="M347.80,262.90 C348.22,262.42 349.32,260.53 350.30,260.00 C351.16,259.53 352.24,259.52 353.20,259.60 C354.18,259.68 355.19,260.24 356.10,260.50 C356.91,260.73 357.60,261.18 358.40,261.10 C359.35,261.00 360.38,259.93 361.40,259.60 C362.35,259.29 363.36,259.42 364.30,259.10 C365.29,258.77 366.24,258.13 367.20,257.60 C368.17,257.06 369.11,256.36 370.10,255.90 C371.05,255.47 371.98,255.18 373.00,254.90 C374.10,254.60 375.24,254.34 376.50,254.20 C377.94,254.04 379.63,254.05 381.20,254.10 C382.77,254.15 384.46,254.27 385.90,254.50 C387.16,254.70 388.40,254.84 389.40,255.30 C390.30,255.71 390.94,256.39 391.70,257.00 C392.50,257.65 393.29,259.04 394.10,259.10 C394.85,259.15 395.51,257.78 396.40,257.60 C397.41,257.39 398.84,257.73 399.90,258.20 C400.98,258.68 401.95,259.57 402.80,260.50 C403.70,261.49 404.46,262.86 405.10,264.00 C405.67,265.02 406.02,267.00 406.50,267.00 C407.02,267.00 407.57,264.72 408.10,263.50 C408.67,262.19 409.01,260.58 409.80,259.40 C410.56,258.26 411.60,257.19 412.70,256.50 C413.75,255.85 415.02,255.60 416.20,255.30 C417.35,255.01 418.49,254.83 419.70,254.70 C420.98,254.56 422.40,254.36 423.70,254.50 C424.97,254.64 426.07,255.16 427.40,255.50 C428.94,255.89 430.73,256.38 432.40,256.70 C434.06,257.01 435.70,257.05 437.40,257.40 C439.22,257.77 441.24,258.73 443.00,258.90 C444.51,259.05 445.76,258.45 447.30,258.60 C449.15,258.78 451.52,260.23 453.30,260.20 C454.74,260.17 455.77,259.11 457.20,259.00 C458.88,258.87 460.94,259.90 462.80,259.80 C464.68,259.70 466.47,258.51 468.40,258.40 C470.40,258.28 472.53,259.02 474.60,259.20 C476.66,259.38 478.73,259.53 480.80,259.50 C482.87,259.47 485.20,258.95 487.00,259.00 C488.39,259.04 489.62,259.11 490.70,259.50 C491.66,259.85 492.50,260.33 493.20,261.10 C494.02,262.01 494.28,263.89 495.10,264.80 C495.80,265.57 496.75,266.28 497.60,266.40 C498.38,266.51 499.21,266.05 500.00,265.70 C500.88,265.31 501.73,264.66 502.60,264.10 C503.50,263.53 504.38,262.42 505.30,262.30 C506.15,262.19 507.11,262.62 507.90,263.20 C508.89,263.93 509.67,265.44 510.50,266.70 C511.40,268.06 512.17,270.27 513.10,271.10 C513.68,271.61 514.32,271.96 514.90,271.90 C515.49,271.84 516.05,270.63 516.60,270.70 C517.23,270.78 517.90,271.81 518.40,272.80 C519.21,274.39 519.47,277.64 520.10,279.80 C520.65,281.70 521.33,285.12 521.90,285.10 C522.54,285.08 523.06,280.50 523.70,278.10 C524.38,275.54 524.92,271.97 525.90,270.20 C526.51,269.11 527.19,268.49 528.00,267.90 C528.79,267.33 529.75,266.68 530.70,266.70 C531.80,266.72 532.98,267.78 534.20,268.40 C535.57,269.10 537.11,269.73 538.50,270.70 C540.02,271.76 541.48,273.15 542.90,274.60 C544.42,276.16 546.02,277.85 547.30,279.80 C548.68,281.89 549.75,284.52 550.80,286.80 C551.77,288.91 552.41,291.80 553.40,293.00 C553.96,293.68 554.68,294.35 555.20,294.20 C555.93,293.99 556.33,291.94 556.90,290.30 C557.80,287.68 558.58,282.79 559.60,279.80 C560.40,277.46 561.02,275.20 562.20,273.70 C563.16,272.48 564.42,271.82 565.70,271.10 C567.04,270.34 568.64,269.95 570.10,269.30 C571.58,268.65 572.93,267.56 574.50,267.20 C576.12,266.83 578.05,266.98 579.70,267.20 C581.24,267.41 582.68,267.78 584.10,268.40 C585.61,269.06 587.09,270.00 588.50,271.10 C590.04,272.30 591.56,273.92 592.90,275.40 C594.18,276.82 595.43,278.93 596.40,279.80 C596.93,280.28 597.34,280.81 597.80,280.70 C598.52,280.53 599.06,278.40 599.90,277.20 C600.88,275.79 602.19,274.15 603.40,272.80 C604.53,271.53 605.69,270.34 606.90,269.30 C608.03,268.32 609.82,267.13 610.40,266.70" fill="none" stroke="#008080" stroke-width="1.2" stroke-linejoin="round" stroke-linecap="round" clip-path="url(#ci)"/>
<path d="M347.80,253.80 C348.22,253.67 349.44,253.27 350.30,253.00 C351.23,252.71 352.23,252.60 353.20,252.10 C354.37,251.49 355.59,250.27 356.70,249.40 C357.71,248.61 358.59,247.69 359.60,247.10 C360.53,246.55 361.52,245.99 362.50,245.90 C363.45,245.81 364.42,246.40 365.40,246.50 C366.39,246.60 367.49,246.71 368.40,246.50 C369.24,246.31 369.89,245.93 370.70,245.40 C371.79,244.69 373.07,243.52 374.20,242.40 C375.41,241.20 376.52,239.68 377.70,238.40 C378.85,237.15 379.98,235.81 381.20,234.80 C382.32,233.88 383.54,232.98 384.70,232.50 C385.67,232.10 386.65,231.81 387.60,231.90 C388.58,231.99 389.71,232.50 390.50,233.10 C391.26,233.68 391.72,234.56 392.30,235.40 C392.93,236.32 393.48,238.30 394.10,238.40 C394.55,238.47 394.97,237.25 395.50,237.20 C396.11,237.14 396.92,237.88 397.60,238.40 C398.39,239.00 399.09,239.89 399.90,240.70 C400.81,241.61 401.89,242.69 402.80,243.60 C403.61,244.41 404.44,245.19 405.10,245.90 C405.64,246.47 406.08,247.58 406.50,247.50 C407.13,247.38 407.67,244.69 408.10,243.00 C408.62,240.94 408.67,238.14 409.20,236.00 C409.67,234.12 410.09,232.11 411.00,230.80 C411.75,229.71 412.93,228.89 413.90,228.40 C414.67,228.01 415.39,227.75 416.20,227.80 C417.14,227.86 418.28,228.33 419.20,229.00 C420.29,229.79 420.99,231.59 422.10,232.50 C423.14,233.36 424.52,233.60 425.60,234.40 C426.73,235.24 427.60,236.49 428.70,237.50 C429.86,238.56 431.21,240.17 432.40,240.60 C433.26,240.91 434.09,240.78 434.90,240.60 C435.76,240.41 436.61,239.27 437.40,239.40 C438.29,239.55 439.15,240.85 439.90,241.90 C440.83,243.20 441.55,244.97 442.30,246.80 C443.20,249.01 443.96,251.81 444.80,254.30 C445.63,256.78 446.47,259.22 447.30,261.70 C448.14,264.19 448.93,267.01 449.80,269.20 C450.51,270.97 451.15,272.91 452.00,273.90 C452.55,274.54 453.23,275.22 453.80,275.10 C454.59,274.93 455.32,273.03 456.00,271.60 C456.93,269.63 457.61,266.76 458.50,264.20 C459.47,261.41 460.51,258.20 461.60,255.50 C462.58,253.07 463.49,250.45 464.70,248.70 C465.63,247.36 466.67,246.20 467.80,245.60 C468.76,245.09 469.84,244.88 470.90,245.00 C472.10,245.13 473.45,245.97 474.60,246.60 C475.71,247.21 476.70,247.88 477.70,248.70 C478.78,249.59 479.76,250.95 480.80,251.80 C481.69,252.53 482.65,253.63 483.50,253.60 C484.31,253.57 485.09,252.74 485.80,251.80 C486.99,250.24 487.90,246.52 488.90,244.30 C489.72,242.48 490.39,240.45 491.30,239.40 C491.89,238.72 492.50,238.07 493.20,238.10 C494.12,238.14 495.32,239.83 496.30,240.60 C497.17,241.28 497.98,241.66 498.80,242.50 C499.86,243.59 501.05,245.57 501.90,246.80 C502.53,247.71 502.84,248.46 503.50,249.20 C504.22,250.00 505.25,251.44 506.10,251.40 C507.01,251.35 507.84,249.28 508.80,248.60 C509.62,248.01 510.51,247.60 511.40,247.40 C512.25,247.21 513.17,247.65 514.00,247.40 C514.91,247.13 515.84,245.63 516.60,245.70 C517.28,245.76 517.91,246.48 518.40,247.40 C519.38,249.22 519.41,254.29 520.10,257.00 C520.63,259.05 521.33,262.32 521.90,262.30 C522.54,262.28 523.14,257.78 523.70,255.30 C524.32,252.54 524.50,248.70 525.40,246.50 C526.01,244.99 526.81,243.84 527.70,243.00 C528.42,242.32 529.33,241.55 530.10,241.60 C530.89,241.65 531.56,243.23 532.40,243.40 C533.20,243.56 534.15,242.57 535.00,242.70 C535.92,242.84 536.67,243.87 537.70,244.40 C538.94,245.05 540.66,245.52 542.00,246.20 C543.25,246.83 544.40,247.35 545.50,248.30 C546.80,249.42 548.01,250.94 549.10,252.70 C550.43,254.86 551.53,258.04 552.60,260.50 C553.55,262.68 554.29,266.53 555.20,266.70 C555.75,266.80 556.38,265.85 556.90,264.90 C557.99,262.92 558.60,257.45 559.60,254.40 C560.40,251.95 561.07,249.28 562.20,247.90 C562.95,246.98 563.82,246.49 564.80,246.20 C565.84,245.89 567.02,246.37 568.30,246.20 C569.90,245.99 571.96,244.57 573.60,244.80 C575.18,245.02 576.53,246.57 578.00,247.40 C579.43,248.21 580.84,249.03 582.30,249.70 C583.74,250.36 585.38,250.61 586.70,251.40 C588.01,252.18 589.07,253.28 590.20,254.40 C591.41,255.60 592.67,257.15 593.70,258.40 C594.57,259.46 595.25,260.55 596.00,261.40 C596.61,262.10 597.18,263.21 597.80,263.20 C598.48,263.18 599.15,261.67 599.90,260.90 C600.71,260.07 601.47,258.81 602.50,258.40 C603.51,257.99 604.93,258.26 606.00,258.40 C606.94,258.52 607.86,258.67 608.60,259.10 C609.32,259.52 610.10,260.60 610.40,260.90" fill="none" stroke="#0000ff" stroke-width="1.2" stroke-linejoin="round" stroke-linecap="round" clip-path="url(#ci)"/>
<rect x="349.4" y="239.5" width="21.1" height="39.8" fill="none" stroke="#ff0000" stroke-width="1.1"/>
<rect x="422.5" y="230.4" width="70.2" height="59" fill="none" stroke="#ff0000" stroke-width="1.1"/>
<rect x="347.8" y="227.4" width="262.6" height="100.9" fill="none" stroke="#222" stroke-width="1"/>
<line x1="347.8" y1="328.3" x2="347.8" y2="332.5" stroke="#222" stroke-width="1"/>
<text x="347.8" y="343.8" font-size="10.8" text-anchor="middle" fill="#111" transform="translate(347.8,0) scale(0.7,1) translate(-347.8,0)">800</text>
<line x1="391.6" y1="328.3" x2="391.6" y2="332.5" stroke="#222" stroke-width="1"/>
<text x="391.6" y="343.8" font-size="10.8" text-anchor="middle" fill="#111" transform="translate(391.6,0) scale(0.7,1) translate(-391.6,0)">900</text>
<line x1="435.3" y1="328.3" x2="435.3" y2="332.5" stroke="#222" stroke-width="1"/>
<text x="435.3" y="343.8" font-size="10.8" text-anchor="middle" fill="#111" transform="translate(435.3,0) scale(0.7,1) translate(-435.3,0)">1000</text>
<line x1="479.1" y1="328.3" x2="479.1" y2="332.5" stroke="#222" stroke-width="1"/>
<text x="479.1" y="343.8" font-size="10.8" text-anchor="middle" fill="#111" transform="translate(479.1,0) scale(0.7,1) translate(-479.1,0)">1100</text>
<line x1="522.9" y1="328.3" x2="522.9" y2="332.5" stroke="#222" stroke-width="1"/>
<text x="522.9" y="343.8" font-size="10.8" text-anchor="middle" fill="#111" transform="translate(522.9,0) scale(0.7,1) translate(-522.9,0)">1200</text>
<line x1="566.6" y1="328.3" x2="566.6" y2="332.5" stroke="#222" stroke-width="1"/>
<text x="566.6" y="343.8" font-size="10.8" text-anchor="middle" fill="#111" transform="translate(566.6,0) scale(0.7,1) translate(-566.6,0)">1300</text>
<line x1="610.4" y1="328.3" x2="610.4" y2="332.5" stroke="#222" stroke-width="1"/>
<text x="610.4" y="343.8" font-size="10.8" text-anchor="middle" fill="#111" transform="translate(610.4,0) scale(0.7,1) translate(-610.4,0)">1400</text>
<line x1="369.7" y1="328.3" x2="369.7" y2="330.6" stroke="#222" stroke-width="1"/>
<line x1="413.5" y1="328.3" x2="413.5" y2="330.6" stroke="#222" stroke-width="1"/>
<line x1="457.2" y1="328.3" x2="457.2" y2="330.6" stroke="#222" stroke-width="1"/>
<line x1="501.0" y1="328.3" x2="501.0" y2="330.6" stroke="#222" stroke-width="1"/>
<line x1="544.8" y1="328.3" x2="544.8" y2="330.6" stroke="#222" stroke-width="1"/>
<line x1="588.5" y1="328.3" x2="588.5" y2="330.6" stroke="#222" stroke-width="1"/>
<text x="326.5" y="243.5" font-size="18.4" letter-spacing="1" fill="#000">b)</text>
<path d="M32.50,673.60 C32.70,675.65 33.27,682.04 33.70,685.90 C34.08,689.35 34.22,692.69 34.90,695.70 C35.51,698.37 36.15,701.30 37.40,703.10 C38.38,704.51 39.61,705.47 41.10,706.10 C42.80,706.81 45.09,706.33 47.20,706.80 C49.57,707.33 52.12,709.11 54.60,709.30 C57.02,709.48 59.47,707.89 61.90,708.00 C64.37,708.11 66.83,709.38 69.30,710.00 C71.76,710.61 74.38,710.96 76.70,711.70 C78.86,712.39 80.75,713.38 82.80,714.20 C84.85,715.02 87.03,716.37 89.00,716.60 C90.70,716.79 92.38,716.01 93.90,715.90 C95.22,715.81 96.78,715.33 97.60,715.90 C98.38,716.44 98.29,719.07 98.80,719.10 C99.45,719.14 100.01,715.14 101.30,714.20 C102.52,713.31 104.59,713.22 106.20,713.40 C107.86,713.59 109.57,714.84 111.10,715.40 C112.41,715.88 113.82,715.75 114.80,716.60 C115.96,717.60 116.42,720.16 117.20,721.50 C117.78,722.50 118.40,724.09 118.90,724.00 C119.76,723.84 119.44,716.71 120.90,715.40 C121.90,714.50 123.43,715.07 125.00,714.90 C127.10,714.67 129.95,714.52 132.40,714.20 C134.85,713.88 137.37,713.44 139.70,713.00 C141.86,712.60 144.24,711.31 145.90,711.70 C147.23,712.01 148.29,713.13 149.10,714.20 C149.95,715.33 150.19,718.36 150.80,718.40 C151.33,718.43 151.86,716.44 152.50,715.40 C153.23,714.22 153.85,712.43 155.00,711.70 C156.15,710.97 157.75,710.91 159.40,711.00 C161.56,711.11 164.33,712.46 166.80,713.00 C169.23,713.53 171.66,713.80 174.10,714.20 C176.56,714.60 179.50,714.72 181.50,715.40 C183.00,715.91 184.21,716.35 185.20,717.40 C186.38,718.65 187.05,720.49 187.70,722.80 C188.72,726.44 188.92,731.96 189.40,737.50 C190.02,744.64 190.30,762.10 190.80,762.10 C191.27,762.10 191.79,747.26 192.30,740.00 C192.79,732.94 192.33,722.91 193.80,719.10 C194.45,717.42 195.25,716.29 196.30,715.90 C197.30,715.53 198.95,715.81 199.90,716.60 C201.19,717.66 201.75,720.24 202.40,722.80 C203.37,726.61 203.53,732.24 204.10,737.50 C204.76,743.58 205.06,754.08 206.10,757.20 C206.46,758.27 206.95,759.29 207.30,759.20 C208.53,758.90 208.29,738.78 209.00,730.20 C209.57,723.34 208.94,714.24 211.00,711.70 C211.94,710.54 213.51,710.90 214.70,710.50 C215.81,710.13 216.47,709.62 217.90,709.40 C220.55,708.99 225.70,709.60 229.60,709.70 C233.50,709.80 237.69,709.79 241.30,710.00 C244.42,710.18 246.88,710.71 250.00,710.80 C253.61,710.90 257.80,710.53 261.70,710.40 C265.60,710.27 269.50,710.05 273.40,710.00 C277.30,709.95 282.15,710.48 285.10,710.10 C286.94,709.86 288.19,709.30 289.50,708.90 C290.57,708.57 291.32,708.01 292.40,707.90 C293.70,707.77 295.23,708.47 296.80,708.50 C298.60,708.53 300.90,708.13 302.60,707.90 C303.95,707.72 305.06,707.23 306.20,707.30 C307.25,707.37 308.25,708.10 309.20,708.20 C310.04,708.29 310.94,707.63 311.60,708.00 C312.47,708.48 312.78,711.62 313.50,711.70 C314.13,711.77 314.72,709.75 315.60,709.20 C316.48,708.65 317.73,708.60 318.80,708.40 C319.86,708.20 320.93,708.00 322.00,708.00 C323.09,708.00 324.15,708.22 325.30,708.40 C326.57,708.60 328.16,708.79 329.30,709.20 C330.23,709.54 331.09,709.85 331.70,710.50 C332.35,711.19 332.50,713.28 333.00,713.30 C333.55,713.32 334.06,710.37 334.90,710.00 C335.57,709.70 336.50,710.50 337.30,710.50 C338.10,710.50 339.03,709.79 339.70,710.00 C340.36,710.21 340.74,711.65 341.30,711.70 C341.81,711.74 342.24,710.83 342.90,710.50 C343.75,710.08 344.87,709.88 346.10,709.60 C347.72,709.23 349.98,708.64 351.80,708.60 C353.47,708.56 355.18,708.83 356.60,709.20 C357.80,709.51 358.66,710.17 359.80,710.50 C361.04,710.86 362.35,711.16 363.80,711.20 C365.51,711.24 367.36,710.67 369.40,710.50 C371.83,710.30 374.87,710.36 377.40,710.20 C379.68,710.05 381.52,709.70 383.90,709.60 C386.79,709.48 390.30,709.63 393.50,709.70 C396.70,709.77 399.89,709.87 403.10,710.00 C406.33,710.13 409.83,710.32 412.80,710.50 C415.32,710.66 417.26,710.82 419.80,711.00 C422.81,711.21 426.66,711.34 429.70,711.70 C432.33,712.01 434.80,712.83 437.00,712.90 C438.79,712.95 440.28,712.20 441.90,712.40 C443.58,712.61 445.41,713.45 446.90,714.20 C448.24,714.88 449.46,715.44 450.50,716.60 C451.82,718.08 452.95,720.42 453.70,722.80 C454.59,725.63 454.61,729.07 455.00,732.60 C455.46,736.74 455.68,746.08 456.20,746.10 C456.67,746.12 457.26,737.77 457.90,735.10 C458.28,733.52 458.73,731.38 459.10,731.40 C459.57,731.42 460.02,735.21 460.40,737.50 C460.88,740.39 460.80,745.75 461.60,747.40 C461.93,748.08 462.41,748.04 462.80,748.60 C463.40,749.46 463.99,750.74 464.50,752.30 C465.30,754.75 465.90,758.36 466.50,762.10 C467.29,767.02 467.84,774.36 468.50,779.30 C469.00,783.06 469.54,789.21 470.00,789.20 C470.51,789.19 470.96,781.71 471.40,776.90 C472.02,770.11 472.34,758.88 473.10,752.30 C473.61,747.86 474.38,741.19 474.90,741.20 C475.47,741.22 475.79,750.42 476.30,754.70 C476.76,758.58 477.33,765.81 477.80,765.80 C478.41,765.79 478.97,754.13 479.50,747.40 C480.15,739.24 480.42,727.06 481.30,720.30 C481.83,716.20 482.09,712.89 483.20,710.50 C483.97,708.85 484.90,707.54 486.20,706.80 C487.52,706.05 489.30,706.29 491.10,706.10 C493.31,705.87 495.65,705.68 498.50,705.60 C502.41,705.50 507.90,705.89 512.40,705.80 C516.65,705.71 520.18,705.35 524.80,705.10 C530.65,704.79 538.55,704.42 544.70,704.10 C550.03,703.82 554.45,703.44 559.60,703.30 C565.15,703.15 571.62,703.02 576.90,703.30 C581.38,703.53 585.53,704.40 589.30,704.60 C592.45,704.76 595.73,704.24 598.00,704.60 C599.52,704.84 600.37,705.41 601.70,705.80 C603.24,706.25 604.86,706.93 606.70,707.10 C608.91,707.31 611.45,706.89 614.10,706.60 C617.19,706.26 620.42,705.44 624.10,705.10 C628.56,704.69 634.04,704.77 639.00,704.60 C643.94,704.43 649.06,704.33 653.80,704.10 C658.20,703.89 664.38,703.43 666.50,703.30" fill="none" stroke="#ff8000" stroke-width="1.7" stroke-linejoin="round" stroke-linecap="round" clip-path="url(#cb)"/>
<path d="M32.50,498.50 C32.72,500.08 33.12,507.90 33.80,508.00 C34.21,508.06 34.72,504.84 35.30,504.80 C35.91,504.76 36.70,506.93 37.40,508.00 C38.10,509.07 38.86,509.97 39.50,511.20 C40.28,512.69 40.81,516.32 41.60,516.40 C42.24,516.47 42.78,514.00 43.70,513.30 C44.57,512.63 45.84,512.55 46.90,512.20 C47.94,511.85 49.14,510.91 50.00,511.20 C50.93,511.51 51.48,514.31 52.20,514.30 C52.91,514.29 53.49,511.42 54.30,511.20 C54.93,511.03 55.74,512.31 56.40,512.20 C57.15,512.07 57.92,510.00 58.50,510.10 C59.14,510.21 59.57,511.92 60.00,513.30 C60.71,515.57 61.03,519.87 61.60,522.70 C62.07,525.05 62.69,526.28 63.10,529.10 C63.86,534.40 63.68,552.25 64.40,552.30 C64.81,552.33 65.21,545.04 65.90,544.90 C66.30,544.82 66.91,545.80 67.30,547.00 C68.66,551.17 68.17,566.83 68.60,577.60 C69.08,589.63 69.39,615.79 70.00,615.80 C70.50,615.81 71.31,600.09 71.80,590.20 C72.47,576.60 72.43,552.91 73.20,541.70 C73.61,535.73 73.79,530.89 74.70,528.00 C75.16,526.54 75.86,526.15 76.40,524.90 C77.15,523.18 77.85,520.86 78.50,518.50 C79.28,515.66 79.44,509.93 80.60,509.00 C81.09,508.61 81.81,508.64 82.30,509.00 C83.28,509.71 83.84,512.83 84.40,515.40 C85.20,519.07 85.07,526.20 85.90,529.10 C86.32,530.55 86.82,531.18 87.40,532.20 C88.01,533.28 88.89,534.23 89.50,535.40 C90.17,536.68 90.53,539.53 91.20,539.60 C91.81,539.66 92.71,537.92 93.30,536.50 C94.31,534.09 94.75,529.34 95.40,525.90 C96.01,522.65 96.51,516.42 97.10,516.40 C97.58,516.39 98.16,522.72 98.60,522.70 C99.16,522.67 98.94,513.79 100.00,512.20 C100.46,511.51 101.17,511.10 101.70,511.20 C102.32,511.31 102.88,512.39 103.40,513.30 C104.14,514.60 104.73,518.53 105.30,518.50 C105.96,518.46 106.11,512.85 107.00,511.20 C107.57,510.15 108.40,509.00 109.10,509.00 C109.80,509.00 110.53,510.37 111.20,511.20 C111.94,512.12 112.75,512.87 113.30,514.30 C114.23,516.71 114.36,521.13 114.80,524.90 C115.30,529.17 115.61,538.58 116.10,538.60 C116.41,538.61 116.69,533.32 117.10,533.30 C117.52,533.28 118.17,538.64 118.60,538.60 C119.46,538.51 119.06,519.81 120.30,516.40 C120.72,515.24 121.10,514.52 121.80,514.30 C122.58,514.05 123.85,515.39 124.90,515.40 C125.98,515.41 127.15,514.16 128.20,514.30 C129.29,514.45 130.33,515.48 131.30,516.40 C132.45,517.49 133.44,519.19 134.50,520.60 C135.57,522.02 136.56,523.72 137.70,524.90 C138.68,525.92 139.71,526.76 140.80,527.40 C141.82,528.00 143.06,528.78 144.00,528.70 C144.79,528.63 145.38,527.50 146.10,527.40 C146.78,527.31 147.68,527.40 148.20,528.00 C149.17,529.11 148.86,533.04 149.30,535.40 C149.71,537.59 150.22,541.70 150.70,541.70 C151.25,541.69 151.89,536.51 152.40,533.30 C153.07,529.07 153.29,522.54 154.10,518.50 C154.68,515.61 155.18,512.64 156.20,511.20 C156.79,510.36 157.55,509.74 158.30,509.70 C159.11,509.66 160.12,510.60 160.90,511.20 C161.68,511.80 162.43,512.31 163.00,513.30 C163.85,514.77 163.75,518.47 164.70,519.60 C165.26,520.28 166.22,520.10 166.80,520.60 C167.40,521.12 167.81,521.61 168.20,522.70 C169.15,525.34 169.25,532.33 169.70,537.50 C170.19,543.18 170.58,555.40 171.00,555.40 C171.45,555.40 171.75,541.43 172.30,535.40 C172.75,530.40 172.37,523.69 173.90,521.70 C174.62,520.77 175.77,520.95 176.70,520.60 C177.61,520.25 178.51,519.59 179.40,519.60 C180.28,519.61 181.23,520.10 182.00,520.60 C182.80,521.12 183.52,521.57 184.10,522.70 C185.31,525.06 185.54,530.86 186.20,535.40 C186.96,540.62 187.73,545.61 188.30,552.30 C189.13,562.01 189.54,574.10 190.00,588.10 C190.65,607.95 190.81,660.10 191.30,660.10 C191.75,660.10 192.41,619.31 192.80,600.00 C193.16,582.04 193.10,562.24 193.60,548.00 C193.95,538.06 193.92,527.53 195.00,522.70 C195.46,520.66 196.07,518.52 196.70,518.50 C197.34,518.47 198.23,520.93 198.80,522.70 C199.66,525.38 200.03,529.07 200.50,533.30 C201.20,539.52 201.49,547.62 202.00,556.50 C202.68,568.46 203.31,584.39 204.10,598.60 C204.91,613.18 206.10,642.91 206.80,642.90 C207.57,642.89 207.97,607.77 208.40,590.00 C208.84,571.95 208.57,547.85 209.40,535.40 C209.83,528.90 210.36,524.96 211.10,520.60 C211.69,517.10 212.34,513.19 213.20,511.20 C213.65,510.15 214.27,508.93 214.70,509.00 C215.31,509.11 215.61,514.30 216.10,514.30 C216.64,514.30 217.09,509.86 217.80,508.00 C218.40,506.42 219.13,505.00 219.90,503.80 C220.55,502.79 221.19,501.48 222.00,501.20 C222.66,500.97 223.35,501.50 224.20,501.70 C225.38,501.97 227.14,502.16 228.40,502.70 C229.59,503.21 230.83,503.70 231.60,504.80 C232.61,506.24 232.60,511.21 233.10,511.20 C233.67,511.19 233.51,503.76 234.80,502.70 C235.57,502.07 236.79,502.56 237.90,502.70 C239.23,502.87 240.79,503.34 242.20,503.80 C243.62,504.27 244.98,505.08 246.40,505.50 C247.78,505.91 249.21,506.41 250.60,506.30 C252.02,506.19 253.42,505.39 254.80,504.80 C256.22,504.19 257.49,503.29 259.00,502.70 C260.64,502.07 262.45,501.64 264.30,501.20 C266.30,500.73 268.48,500.27 270.60,500.00 C272.72,499.73 274.88,499.57 277.00,499.60 C279.11,499.63 281.29,500.10 283.30,500.20 C285.14,500.29 286.96,500.52 288.60,500.20 C290.11,499.91 291.38,498.95 292.80,498.50 C294.18,498.06 295.69,497.57 297.00,497.50 C298.13,497.44 299.38,497.38 300.20,497.90 C301.01,498.42 301.39,500.64 301.90,500.60 C302.43,500.56 302.52,498.10 303.30,497.50 C304.06,496.92 305.55,496.96 306.50,497.00 C307.28,497.03 307.94,497.65 308.60,497.50 C309.34,497.33 310.04,495.72 310.70,495.80 C311.45,495.89 311.98,498.10 312.80,498.50 C313.46,498.82 314.08,498.46 315.00,498.50 C316.56,498.57 319.11,499.08 321.30,499.10 C323.67,499.12 326.63,498.10 328.70,498.50 C330.35,498.82 331.25,500.14 332.90,500.60 C334.97,501.18 338.20,501.41 340.30,501.20 C341.91,501.04 343.09,500.35 344.50,500.00 C345.92,499.65 347.42,498.86 348.80,499.10 C350.26,499.36 351.39,501.10 353.00,501.70 C354.83,502.38 357.29,502.33 359.30,502.70 C361.15,503.04 362.85,503.89 364.60,503.80 C366.38,503.71 368.05,502.62 369.90,502.10 C371.90,501.54 373.82,500.95 376.20,500.60 C379.24,500.16 383.20,499.90 386.70,500.00 C390.23,500.10 393.98,500.72 397.30,501.20 C400.27,501.63 403.36,502.30 405.70,502.70 C407.37,502.98 408.32,503.18 410.00,503.40 C412.33,503.70 415.59,503.97 418.40,504.20 C421.22,504.43 424.59,504.32 426.90,504.80 C428.57,505.15 429.76,505.55 431.10,506.30 C432.57,507.13 434.00,509.72 435.30,509.70 C436.45,509.68 437.37,507.54 438.50,506.90 C439.49,506.34 440.60,505.72 441.60,505.90 C442.71,506.10 443.83,507.40 444.80,508.40 C445.85,509.48 446.80,510.60 447.60,512.20 C448.69,514.38 449.36,517.62 450.10,520.60 C450.92,523.91 451.61,527.25 452.20,531.20 C452.94,536.14 453.42,541.50 453.90,548.00 C454.56,556.96 454.94,569.74 455.40,580.00 C455.83,589.51 456.16,607.50 456.60,607.50 C457.00,607.50 457.29,589.79 457.90,583.90 C458.27,580.35 458.82,575.38 459.20,575.40 C459.82,575.43 460.19,591.07 460.60,598.60 C460.99,605.75 461.31,614.06 461.60,619.50 C461.79,622.99 461.74,628.07 462.10,628.10 C462.43,628.12 463.09,620.70 463.60,620.70 C464.15,620.70 464.81,625.12 465.30,629.30 C466.59,640.15 466.96,668.92 467.70,688.40 C468.42,707.44 469.05,744.90 469.70,744.90 C470.28,744.90 470.87,716.57 471.40,700.60 C472.02,681.80 472.38,654.82 473.10,639.20 C473.54,629.55 474.12,615.80 474.60,615.80 C475.19,615.80 475.76,639.82 476.30,651.50 C476.82,662.77 477.30,684.70 477.80,684.70 C478.30,684.70 478.87,663.21 479.30,651.50 C479.79,638.37 480.16,623.45 480.50,609.70 C480.83,596.30 481.01,582.82 481.30,570.00 C481.58,557.97 481.91,544.50 482.20,535.00 C482.40,528.48 482.39,523.51 482.80,518.50 C483.15,514.28 483.12,509.31 484.30,506.90 C484.98,505.52 485.99,504.91 487.00,504.20 C487.97,503.52 489.20,503.40 490.20,502.70 C491.31,501.92 492.17,500.31 493.30,499.60 C494.29,498.98 495.36,498.90 496.50,498.50 C497.81,498.04 499.28,497.35 500.70,497.00 C502.08,496.66 503.60,496.71 504.90,496.40 C506.08,496.12 506.96,495.44 508.20,495.30 C509.72,495.13 511.57,495.71 513.40,495.80 C515.42,495.90 517.53,496.00 519.80,495.80 C522.42,495.57 525.23,494.65 528.20,494.30 C531.52,493.91 535.11,493.88 538.80,493.70 C542.82,493.51 547.19,493.35 551.40,493.20 C555.62,493.05 559.88,492.97 564.10,492.80 C568.31,492.63 572.49,492.37 576.70,492.20 C580.92,492.03 585.43,491.66 589.40,491.80 C592.91,491.92 596.04,492.48 599.30,492.80 C602.47,493.11 605.63,493.46 608.70,493.70 C611.65,493.93 614.61,494.37 617.40,494.20 C620.03,494.04 622.18,493.09 625.00,492.80 C628.47,492.44 632.80,492.68 636.70,492.50 C640.60,492.32 644.07,491.93 648.40,491.70 C653.78,491.41 663.48,491.12 666.50,491.00" fill="none" stroke="#008080" stroke-width="1.7" stroke-linejoin="round" stroke-linecap="round" clip-path="url(#cb)"/>
<path d="M32.50,450.00 C32.72,451.42 33.07,458.33 33.80,458.50 C34.21,458.59 34.86,456.23 35.30,456.30 C35.93,456.40 36.02,460.12 36.80,461.60 C37.48,462.89 38.55,463.71 39.50,464.80 C40.51,465.97 41.53,468.06 42.70,468.40 C43.66,468.68 44.86,467.54 45.80,467.50 C46.56,467.46 47.20,467.90 47.90,467.90 C48.60,467.90 49.39,467.19 50.00,467.50 C50.95,467.99 51.62,470.48 52.20,472.20 C52.85,474.11 53.13,476.49 53.60,478.50 C54.03,480.35 54.50,483.82 54.90,483.80 C55.48,483.77 55.95,475.63 56.40,472.20 C56.76,469.46 56.49,466.11 57.40,464.80 C57.92,464.06 58.86,464.27 59.50,463.70 C60.30,462.99 61.03,461.55 61.60,460.60 C62.05,459.85 62.33,458.47 62.70,458.50 C63.20,458.54 63.50,462.46 64.20,462.70 C64.67,462.86 65.41,461.44 65.90,461.60 C66.64,461.83 67.08,464.07 67.60,465.80 C68.40,468.43 69.01,475.99 69.70,476.00 C70.27,476.01 70.73,471.01 71.40,469.00 C71.93,467.40 72.60,464.83 73.20,464.80 C73.70,464.77 74.22,466.36 74.70,467.50 C75.44,469.22 76.06,474.27 76.80,474.30 C77.47,474.33 78.16,470.92 78.90,469.00 C79.77,466.74 80.56,463.65 81.70,461.60 C82.63,459.92 83.78,457.69 84.90,457.40 C85.71,457.19 86.70,457.83 87.40,458.50 C88.32,459.38 88.61,462.50 89.50,462.70 C90.26,462.87 91.27,461.36 92.20,460.60 C93.23,459.75 94.51,458.87 95.40,457.80 C96.28,456.74 96.73,455.20 97.50,454.20 C98.15,453.36 98.96,452.98 99.60,452.10 C100.40,450.99 100.80,449.13 101.70,447.90 C102.58,446.70 103.81,445.90 104.90,444.80 C106.08,443.61 107.32,441.16 108.50,441.00 C109.41,440.87 110.34,441.82 111.20,442.60 C112.33,443.62 113.49,445.26 114.40,446.90 C115.43,448.74 116.20,451.08 116.90,453.20 C117.59,455.28 118.07,459.52 118.60,459.50 C119.21,459.48 119.47,452.78 120.30,451.10 C120.73,450.24 121.27,449.38 121.80,449.40 C122.45,449.42 123.34,451.23 123.90,452.10 C124.36,452.82 124.58,453.37 125.00,454.20 C125.59,455.38 126.29,457.02 127.10,458.50 C128.02,460.17 129.25,461.95 130.30,463.70 C131.35,465.45 132.52,467.20 133.40,469.00 C134.25,470.74 134.73,472.71 135.50,474.30 C136.18,475.70 136.94,478.05 137.70,478.10 C138.38,478.14 139.07,476.14 139.80,475.30 C140.47,474.52 141.24,474.01 141.90,473.20 C142.65,472.28 143.30,471.06 144.00,470.00 C144.70,468.96 145.35,467.80 146.10,466.90 C146.76,466.10 147.59,464.71 148.20,464.80 C148.87,464.90 149.49,466.56 149.90,467.90 C150.54,469.99 150.34,473.83 150.70,476.40 C151.00,478.55 151.45,482.31 151.80,482.30 C152.26,482.29 152.69,475.89 153.10,472.20 C153.60,467.74 153.87,461.63 154.50,457.40 C154.98,454.19 155.39,451.20 156.20,449.00 C156.78,447.43 157.36,445.75 158.30,445.20 C159.02,444.77 160.12,444.92 160.90,445.20 C161.69,445.48 162.31,446.20 163.00,446.90 C163.84,447.74 164.53,449.38 165.50,450.00 C166.31,450.52 167.26,450.52 168.20,450.70 C169.22,450.89 170.38,450.72 171.40,451.10 C172.52,451.51 173.63,452.35 174.60,453.20 C175.60,454.08 176.32,455.59 177.30,456.30 C178.11,456.89 179.13,456.73 179.90,457.40 C180.91,458.28 181.57,460.10 182.40,461.60 C183.31,463.25 184.32,465.03 185.10,466.90 C185.93,468.88 186.56,471.09 187.20,473.20 C187.83,475.29 188.45,477.17 188.90,479.50 C189.44,482.32 189.71,485.20 190.00,489.00 C190.43,494.64 190.45,504.11 190.80,510.10 C191.06,514.54 191.42,521.70 191.70,521.70 C191.98,521.70 192.25,514.98 192.50,510.10 C192.92,501.80 192.92,485.14 193.60,476.40 C194.04,470.81 194.28,465.73 195.30,462.70 C195.86,461.04 196.59,459.27 197.40,459.10 C198.03,458.96 198.92,459.76 199.50,460.60 C200.49,462.04 200.87,464.94 201.40,467.90 C202.20,472.34 202.56,479.00 203.10,484.80 C203.67,490.95 204.05,498.35 204.70,503.80 C205.20,507.94 205.87,514.70 206.40,514.70 C206.93,514.70 207.51,508.39 207.90,503.80 C208.57,496.02 208.50,481.40 209.00,472.20 C209.39,465.06 209.32,457.34 210.40,453.20 C210.97,451.04 211.76,449.70 212.60,448.50 C213.24,447.59 214.15,446.26 214.70,446.40 C215.41,446.58 215.50,451.01 216.10,451.10 C216.58,451.17 217.20,448.51 217.80,448.50 C218.46,448.49 219.09,450.83 219.90,451.50 C220.56,452.05 221.52,451.79 222.10,452.50 C223.11,453.72 223.27,457.13 223.80,459.50 C224.34,461.93 224.26,466.05 225.30,466.90 C225.85,467.35 226.85,467.29 227.40,466.90 C228.21,466.33 228.21,463.59 228.90,462.70 C229.35,462.11 230.02,461.48 230.50,461.60 C231.16,461.76 231.58,464.71 232.20,464.80 C232.67,464.87 233.10,463.48 233.70,463.30 C234.30,463.12 235.15,463.36 235.80,463.70 C236.57,464.11 237.20,465.09 237.90,465.80 C238.60,466.52 239.29,467.99 240.00,468.00 C240.72,468.01 241.56,466.77 242.20,465.80 C243.06,464.50 243.65,462.51 244.30,460.60 C245.06,458.37 245.46,455.41 246.40,453.20 C247.24,451.23 248.33,449.30 249.50,447.90 C250.47,446.75 251.47,445.72 252.70,445.20 C253.94,444.68 255.43,445.02 256.90,444.80 C258.57,444.55 260.35,443.89 262.20,443.70 C264.20,443.49 266.39,443.67 268.50,443.70 C270.63,443.73 272.78,443.72 274.90,443.90 C277.01,444.08 279.19,444.47 281.20,444.80 C283.05,445.11 285.19,445.19 286.50,445.80 C287.43,446.23 287.90,447.50 288.60,447.50 C289.30,447.50 289.77,446.07 290.70,445.80 C291.99,445.42 294.25,446.13 295.90,446.40 C297.41,446.64 299.33,446.55 300.20,447.30 C300.90,447.91 300.81,449.98 301.20,450.00 C301.63,450.02 301.87,447.60 302.70,446.90 C303.59,446.15 305.28,446.09 306.50,445.80 C307.61,445.54 308.68,444.99 309.70,445.20 C310.79,445.43 311.82,446.85 312.80,447.30 C313.57,447.65 314.07,447.69 315.00,447.90 C316.55,448.25 319.03,448.87 321.30,449.00 C323.91,449.15 327.19,448.27 329.80,448.50 C332.07,448.70 334.20,449.78 336.10,450.00 C337.63,450.18 338.92,450.24 340.30,450.00 C341.72,449.75 343.18,448.86 344.50,448.50 C345.63,448.20 346.57,447.81 347.70,447.90 C349.02,448.00 350.41,448.90 351.90,449.40 C353.56,449.96 355.35,450.55 357.20,451.10 C359.20,451.69 361.62,452.83 363.50,452.80 C365.05,452.77 366.30,451.96 367.70,451.50 C369.13,451.03 370.41,450.40 372.00,450.00 C373.88,449.53 376.04,449.25 378.30,449.00 C380.89,448.72 383.89,448.44 386.70,448.50 C389.53,448.57 392.38,449.03 395.20,449.40 C398.01,449.77 400.98,450.42 403.60,450.70 C405.87,450.95 407.72,450.89 410.00,451.10 C412.61,451.34 415.59,451.75 418.40,452.10 C421.23,452.45 424.28,452.82 426.90,453.20 C429.16,453.53 431.60,453.73 433.20,454.20 C434.25,454.51 434.76,455.18 435.70,455.30 C436.82,455.44 438.29,454.68 439.50,454.70 C440.61,454.72 441.67,454.89 442.70,455.30 C443.81,455.75 444.92,456.47 445.90,457.40 C447.05,458.49 448.07,460.00 449.00,461.60 C450.07,463.44 451.01,465.61 451.80,467.90 C452.69,470.49 453.34,473.16 453.90,476.40 C454.63,480.61 454.97,486.49 455.40,491.10 C455.79,495.19 455.95,502.68 456.40,502.70 C456.81,502.71 457.30,495.63 457.90,493.20 C458.29,491.63 458.81,489.37 459.20,489.40 C459.76,489.44 460.19,494.39 460.60,497.50 C461.14,501.67 461.16,512.09 461.90,512.20 C462.26,512.25 462.69,509.02 463.20,509.00 C463.80,508.98 464.73,511.46 465.30,513.30 C466.19,516.18 466.50,520.56 467.00,524.90 C467.64,530.43 468.10,537.32 468.60,543.80 C469.13,550.64 469.57,564.90 470.10,564.90 C470.58,564.90 471.12,554.31 471.60,548.00 C472.21,539.97 472.63,528.48 473.30,520.60 C473.81,514.61 474.45,504.80 475.00,504.80 C475.51,504.80 476.01,514.02 476.50,518.50 C476.97,522.81 477.45,531.20 477.90,531.20 C478.35,531.20 478.81,523.62 479.20,518.50 C479.80,510.71 480.14,497.88 480.70,489.00 C481.16,481.68 481.40,474.42 482.20,469.00 C482.76,465.23 483.13,461.54 484.30,459.50 C485.02,458.24 485.97,457.40 487.00,457.00 C487.96,456.63 489.26,457.15 490.20,457.00 C490.98,456.87 491.48,456.33 492.30,456.30 C493.46,456.26 494.96,456.99 496.50,457.40 C498.39,457.90 501.23,458.75 502.80,459.10 C503.72,459.31 504.08,459.29 505.00,459.50 C506.57,459.85 509.40,460.76 511.30,461.20 C512.83,461.55 514.09,461.93 515.50,462.00 C516.92,462.07 518.26,461.38 519.80,461.60 C521.73,461.88 523.84,463.27 526.10,464.10 C528.69,465.04 531.68,466.05 534.50,466.90 C537.31,467.75 540.38,468.49 543.00,469.20 C545.26,469.81 547.27,470.55 549.30,470.90 C551.13,471.21 552.84,471.37 554.60,471.30 C556.37,471.23 558.15,470.88 559.90,470.50 C561.65,470.12 563.60,469.57 565.10,469.00 C566.32,468.54 567.27,468.16 568.30,467.50 C569.42,466.79 570.38,465.83 571.50,464.80 C572.83,463.58 574.18,461.97 575.70,460.60 C577.33,459.13 579.21,457.62 581.00,456.30 C582.71,455.03 584.54,453.90 586.20,452.80 C587.70,451.81 589.19,450.84 590.50,450.00 C591.59,449.30 592.37,448.73 593.50,448.10 C594.87,447.33 596.61,446.39 598.20,445.80 C599.71,445.24 601.17,444.98 602.80,444.60 C604.64,444.17 606.85,443.81 608.70,443.40 C610.36,443.04 611.83,442.48 613.40,442.30 C614.93,442.12 616.58,442.14 618.00,442.30 C619.25,442.44 620.37,443.27 621.50,443.10 C622.70,442.92 623.91,441.49 625.00,441.10 C625.85,440.80 626.53,440.65 627.40,440.70 C628.46,440.76 629.57,441.51 630.90,441.70 C632.58,441.93 634.76,441.80 636.70,441.70 C638.66,441.60 640.30,441.28 642.60,441.10 C645.82,440.85 650.28,440.70 654.20,440.50 C658.24,440.30 664.45,440.00 666.50,439.90" fill="none" stroke="#0000ff" stroke-width="1.7" stroke-linejoin="round" stroke-linecap="round" clip-path="url(#cb)"/>
<rect x="32.5" y="437.2" width="634.7" height="355.1" fill="none" stroke="#000" stroke-width="1.3"/>
<line x1="32.5" y1="785.5" x2="32.5" y2="798.5" stroke="#000" stroke-width="1.2"/>
<text x="32.5" y="816" font-size="15" text-anchor="middle" fill="#000">500</text>
<line x1="123.2" y1="785.5" x2="123.2" y2="798.5" stroke="#000" stroke-width="1.2"/>
<text x="123.2" y="816" font-size="15" text-anchor="middle" fill="#000">1000</text>
<line x1="213.8" y1="785.5" x2="213.8" y2="798.5" stroke="#000" stroke-width="1.2"/>
<text x="213.8" y="816" font-size="15" text-anchor="middle" fill="#000">1500</text>
<line x1="304.5" y1="785.5" x2="304.5" y2="798.5" stroke="#000" stroke-width="1.2"/>
<text x="304.5" y="816" font-size="15" text-anchor="middle" fill="#000">2000</text>
<line x1="395.2" y1="785.5" x2="395.2" y2="798.5" stroke="#000" stroke-width="1.2"/>
<text x="395.2" y="816" font-size="15" text-anchor="middle" fill="#000">2500</text>
<line x1="485.9" y1="785.5" x2="485.9" y2="798.5" stroke="#000" stroke-width="1.2"/>
<text x="485.9" y="816" font-size="15" text-anchor="middle" fill="#000">3000</text>
<line x1="576.5" y1="785.5" x2="576.5" y2="798.5" stroke="#000" stroke-width="1.2"/>
<text x="576.5" y="816" font-size="15" text-anchor="middle" fill="#000">3500</text>
<line x1="667.2" y1="785.5" x2="667.2" y2="798.5" stroke="#000" stroke-width="1.2"/>
<text x="667.2" y="816" font-size="15" text-anchor="middle" fill="#000">4000</text>
<line x1="77.8" y1="792" x2="77.8" y2="796" stroke="#000" stroke-width="1.2"/>
<line x1="168.5" y1="792" x2="168.5" y2="796" stroke="#000" stroke-width="1.2"/>
<line x1="259.2" y1="792" x2="259.2" y2="796" stroke="#000" stroke-width="1.2"/>
<line x1="349.9" y1="792" x2="349.9" y2="796" stroke="#000" stroke-width="1.2"/>
<line x1="440.5" y1="792" x2="440.5" y2="796" stroke="#000" stroke-width="1.2"/>
<line x1="531.2" y1="792" x2="531.2" y2="796" stroke="#000" stroke-width="1.2"/>
<line x1="621.9" y1="792" x2="621.9" y2="796" stroke="#000" stroke-width="1.2"/>
<text x="8.3" y="454.5" font-size="18.8" letter-spacing="0.8" fill="#000">c)</text>
<text x="350.3" y="847" font-size="18.2" text-anchor="middle" fill="#000">Wavenumber (cm<tspan font-size="12.8" dy="-5.6">−1</tspan><tspan dy="5.6">)</tspan></text>
<text transform="translate(17.8,614.8) rotate(-90)" font-size="18.3" text-anchor="middle" fill="#000">Relative Intensity (a.u.)</text>
<line x1="32.5" y1="730.1" x2="63" y2="730.1" stroke="#ff8000" stroke-width="1.7"/>
<line x1="32.5" y1="751" x2="63" y2="751" stroke="#008080" stroke-width="1.7"/>
<line x1="32.5" y1="771.8" x2="63" y2="771.8" stroke="#0000ff" stroke-width="1.7"/>
<text x="66.8" y="734.8" font-size="13.15" fill="#000"><tspan font-style="italic">syn</tspan>-PP</text>
<text x="66.8" y="755.7" font-size="13.15" fill="#000"><tspan font-style="italic">syn</tspan>-PP-<tspan font-style="italic">g</tspan>-PVBC</text>
<text x="66.8" y="776.5" font-size="13.15" fill="#000"><tspan font-style="italic">syn</tspan>-PP-<tspan font-style="italic">g</tspan>-Im (NFPP-Im-1)</text>
<rect x="213" y="610.4" width="242.3" height="84.2" fill="#fff" stroke="none"/>
<path d="M213.00,661.10 C214.20,661.10 217.77,660.96 220.20,661.10 C222.70,661.25 225.44,661.86 227.80,662.00 C229.83,662.12 231.69,662.08 233.50,662.00 C235.14,661.93 236.63,661.54 238.20,661.60 C239.80,661.66 241.22,662.18 243.00,662.40 C245.22,662.67 247.99,662.82 250.50,663.00 C253.02,663.18 255.58,663.19 258.10,663.50 C260.64,663.82 263.16,664.67 265.70,664.90 C268.22,665.13 271.07,664.60 273.30,664.90 C275.10,665.14 276.76,666.42 278.10,666.20 C279.21,666.01 279.66,664.72 280.90,664.30 C282.75,663.68 285.97,663.80 288.50,663.90 C291.04,664.00 294.08,664.09 296.10,664.90 C297.68,665.54 298.88,667.78 299.90,667.70 C300.67,667.64 300.90,666.31 301.80,665.80 C303.13,665.04 305.25,664.63 307.50,664.30 C310.63,663.84 315.48,664.05 318.90,663.90 C321.69,663.78 324.45,663.52 326.50,663.50 C327.89,663.48 328.75,663.46 330.00,663.60 C331.46,663.76 333.37,663.96 334.70,664.50 C335.84,664.96 336.66,666.45 337.60,666.40 C338.56,666.35 339.26,664.66 340.40,664.10 C341.72,663.45 343.41,663.07 345.20,663.00 C347.44,662.91 350.26,663.85 352.80,664.10 C355.33,664.35 357.87,664.37 360.40,664.50 C362.93,664.63 365.48,664.73 368.00,664.90 C370.51,665.07 373.50,664.75 375.50,665.50 C377.08,666.09 378.41,667.01 379.30,668.30 C380.30,669.75 380.45,671.84 380.90,674.00 C381.47,676.75 381.74,681.05 382.20,683.50 C382.49,685.06 382.81,687.32 383.10,687.30 C383.60,687.27 383.97,679.42 384.50,675.90 C384.96,672.85 384.89,669.11 386.00,667.40 C386.69,666.33 387.75,665.69 388.80,665.50 C389.93,665.29 391.52,665.70 392.60,666.40 C393.80,667.18 394.74,668.62 395.50,670.20 C396.47,672.22 396.77,675.27 397.40,677.80 C398.03,680.33 398.56,683.75 399.30,685.40 C399.70,686.29 400.22,687.38 400.60,687.30 C401.29,687.16 401.54,682.49 402.10,679.70 C402.78,676.28 403.36,671.21 404.40,668.30 C405.11,666.33 405.65,664.54 406.90,663.60 C408.09,662.70 409.75,662.82 411.60,662.60 C414.20,662.28 417.79,662.35 421.10,662.30 C424.73,662.24 428.70,662.25 432.50,662.30 C436.30,662.35 440.10,662.48 443.90,662.60 C447.70,662.72 453.40,662.93 455.30,663.00" fill="none" stroke="#ff8000" stroke-width="1.1" stroke-linejoin="round" stroke-linecap="round" clip-path="url(#cd)"/>
<path d="M213.00,629.40 C213.57,629.20 215.22,628.45 216.40,628.20 C217.62,627.94 218.94,627.80 220.20,627.90 C221.47,628.00 222.73,628.75 224.00,628.80 C225.26,628.85 226.53,628.42 227.80,628.20 C229.07,627.98 230.55,627.49 231.60,627.50 C232.34,627.51 232.95,627.48 233.50,627.90 C234.31,628.53 234.81,630.29 235.40,631.70 C236.09,633.37 236.71,635.28 237.30,637.30 C237.98,639.63 238.28,644.65 239.20,644.90 C239.74,645.05 240.52,642.97 241.10,643.00 C241.65,643.03 242.19,643.95 242.60,644.90 C243.41,646.80 243.52,650.64 243.90,654.40 C244.45,659.83 244.70,674.39 245.20,674.40 C245.67,674.41 246.26,662.07 246.80,656.30 C247.29,651.01 247.40,644.90 248.30,641.10 C248.87,638.69 249.62,637.17 250.50,635.40 C251.34,633.72 252.36,632.02 253.40,630.70 C254.28,629.59 255.18,628.54 256.20,627.90 C257.10,627.34 258.28,626.71 259.10,626.90 C259.86,627.08 260.46,627.85 261.00,628.80 C261.92,630.42 261.92,634.99 262.90,636.40 C263.43,637.16 264.20,637.78 264.80,637.70 C265.48,637.60 266.05,635.35 266.70,635.40 C267.59,635.47 268.40,639.94 269.50,640.20 C270.37,640.40 271.53,639.21 272.40,638.30 C273.50,637.15 274.30,634.76 275.20,633.50 C275.85,632.59 276.47,631.30 277.10,631.30 C277.73,631.30 278.43,633.59 279.00,633.50 C279.75,633.38 280.02,629.81 280.90,628.80 C281.54,628.07 282.45,627.41 283.20,627.50 C284.05,627.60 284.86,629.82 285.70,629.80 C286.62,629.77 287.39,627.21 288.50,626.90 C289.60,626.59 291.18,627.34 292.30,627.90 C293.37,628.43 294.36,629.07 295.10,630.10 C296.03,631.40 296.44,633.67 297.00,635.40 C297.53,637.03 297.89,640.18 298.40,640.20 C298.86,640.22 299.41,636.40 299.90,636.40 C300.35,636.40 300.81,639.64 301.20,639.60 C301.80,639.54 301.65,633.44 302.70,631.70 C303.41,630.52 304.44,629.75 305.60,629.40 C306.91,629.00 308.73,629.59 310.30,629.80 C311.90,630.02 313.43,630.35 315.10,630.70 C316.92,631.08 318.90,631.53 320.80,632.00 C322.70,632.47 324.85,632.91 326.50,633.50 C327.83,633.98 328.78,634.73 330.00,635.10 C331.22,635.47 332.79,635.08 333.80,635.70 C334.83,636.33 335.41,637.98 336.10,638.90 C336.64,639.62 337.13,640.87 337.60,640.80 C338.29,640.70 338.89,637.75 339.50,636.10 C340.16,634.30 340.45,631.79 341.40,630.40 C342.14,629.32 343.12,628.58 344.20,628.10 C345.31,627.60 346.76,627.31 348.00,627.50 C349.30,627.70 350.68,628.59 351.80,629.40 C352.90,630.20 353.66,631.66 354.70,632.30 C355.58,632.84 356.83,632.50 357.50,633.20 C358.37,634.12 358.43,636.12 358.80,638.00 C359.31,640.60 359.60,647.40 360.00,647.40 C360.44,647.40 360.61,639.20 361.30,636.10 C361.80,633.85 362.12,631.10 363.20,630.40 C363.95,629.92 365.15,630.77 366.10,630.70 C367.05,630.63 368.06,629.95 368.90,630.00 C369.60,630.04 370.10,630.43 370.80,630.70 C371.67,631.04 372.70,631.38 373.70,631.90 C374.88,632.51 376.44,633.05 377.40,634.20 C378.55,635.56 379.11,637.56 379.70,639.90 C380.57,643.34 380.78,648.10 381.20,653.10 C381.74,659.66 382.03,668.79 382.40,675.90 C382.72,682.15 382.97,693.50 383.30,693.50 C383.66,693.50 384.13,679.49 384.50,672.10 C384.90,664.16 385.13,654.62 385.60,647.40 C385.97,641.75 385.63,635.02 386.90,632.30 C387.49,631.04 388.37,630.13 389.20,630.00 C389.98,629.88 390.96,630.50 391.70,631.30 C392.88,632.59 393.74,635.13 394.50,638.00 C395.73,642.64 396.11,650.44 396.80,656.90 C397.52,663.69 397.99,672.27 398.70,677.80 C399.17,681.47 399.72,686.91 400.20,686.90 C400.73,686.89 401.24,680.43 401.70,675.90 C402.44,668.63 402.71,655.24 403.60,647.40 C404.23,641.83 404.64,636.57 405.90,633.20 C406.68,631.11 407.80,628.80 408.80,628.50 C409.42,628.32 410.23,629.57 410.70,629.40 C411.17,629.23 411.11,628.19 411.60,627.50 C412.38,626.39 413.85,624.42 415.40,623.70 C417.00,622.95 419.21,623.10 421.10,623.20 C423.01,623.30 425.30,623.60 426.80,624.30 C427.98,624.86 428.79,626.68 429.60,626.60 C430.33,626.53 430.59,624.80 431.50,624.30 C432.66,623.67 434.52,623.69 436.30,623.70 C438.54,623.71 441.55,624.36 443.90,624.70 C445.94,624.99 447.70,625.53 449.60,625.60 C451.50,625.67 454.35,625.18 455.30,625.10" fill="none" stroke="#008080" stroke-width="1.1" stroke-linejoin="round" stroke-linecap="round" clip-path="url(#cd)"/>
<path d="M213.00,623.50 C213.57,623.43 215.24,623.26 216.40,623.10 C217.63,622.93 219.06,622.29 220.20,622.50 C221.24,622.69 222.10,623.42 223.00,624.10 C224.01,624.86 225.02,625.93 225.90,626.90 C226.74,627.83 227.56,629.93 228.20,629.80 C229.08,629.63 229.12,624.56 230.10,623.10 C230.75,622.13 231.64,621.39 232.50,621.20 C233.29,621.03 234.26,622.07 235.00,621.80 C235.91,621.47 236.54,618.76 237.30,618.70 C237.94,618.65 238.43,620.18 239.20,620.60 C239.99,621.03 241.18,620.57 242.00,621.20 C243.22,622.14 243.98,626.88 244.90,626.90 C245.66,626.92 246.28,623.98 247.10,623.10 C247.69,622.46 248.34,621.75 249.00,621.80 C249.80,621.86 250.61,623.56 251.50,624.10 C252.29,624.58 253.16,625.16 254.00,625.00 C255.06,624.80 256.07,623.12 257.20,622.20 C258.40,621.22 259.69,620.11 261.00,619.30 C262.23,618.53 263.72,617.14 264.80,617.40 C265.94,617.67 266.59,621.09 267.60,621.20 C268.51,621.30 269.35,619.40 270.50,618.70 C271.82,617.89 273.63,617.48 275.20,616.80 C276.80,616.11 278.43,615.44 280.00,614.60 C281.60,613.74 283.13,612.37 284.70,611.70 C286.09,611.10 287.50,610.52 288.90,610.60 C290.36,610.68 291.93,611.62 293.30,612.30 C294.62,612.96 295.92,613.62 297.00,614.60 C298.13,615.63 299.24,618.47 299.90,618.40 C300.34,618.35 300.34,616.98 300.80,616.50 C301.27,616.01 301.98,615.60 302.70,615.50 C303.55,615.38 304.58,615.82 305.60,616.10 C306.79,616.43 308.21,616.66 309.40,617.40 C310.77,618.26 311.83,619.97 313.20,621.20 C314.65,622.51 316.41,623.83 317.90,625.00 C319.23,626.04 320.33,627.83 321.70,627.90 C323.18,627.98 324.98,625.94 326.50,625.00 C327.90,624.14 329.18,623.03 330.50,622.50 C331.61,622.05 332.82,621.50 333.80,621.80 C334.87,622.13 335.91,623.52 336.60,624.70 C337.36,626.00 337.46,629.37 338.00,629.40 C338.55,629.43 339.31,626.42 339.90,624.70 C340.59,622.68 340.97,619.87 341.80,618.00 C342.47,616.50 343.12,615.05 344.20,614.20 C345.22,613.40 346.65,612.94 348.00,612.90 C349.50,612.85 351.12,613.83 352.80,614.20 C354.61,614.60 356.60,614.88 358.50,615.20 C360.40,615.52 362.42,615.61 364.20,616.10 C365.87,616.56 367.47,617.18 368.90,618.00 C370.29,618.79 371.43,619.95 372.70,620.90 C373.96,621.85 375.38,622.52 376.50,623.70 C377.74,625.00 378.92,626.69 379.70,628.50 C380.54,630.46 380.74,632.59 381.20,635.10 C381.80,638.37 382.33,646.51 382.80,646.50 C383.32,646.49 383.61,636.55 384.10,632.30 C384.50,628.81 384.51,625.18 385.40,622.80 C386.02,621.16 386.87,619.56 387.90,619.00 C388.71,618.56 389.82,618.65 390.70,619.00 C391.75,619.42 392.78,620.60 393.60,621.80 C394.62,623.29 395.27,625.38 396.00,627.50 C396.87,630.05 397.59,633.29 398.30,636.10 C398.98,638.78 399.41,643.86 400.20,644.00 C400.65,644.08 401.29,642.92 401.70,641.80 C402.62,639.30 402.52,632.75 403.10,628.50 C403.64,624.55 403.77,619.54 405.00,617.10 C405.73,615.66 406.76,614.75 407.80,614.20 C408.69,613.73 410.00,613.36 410.70,613.70 C411.38,614.03 411.37,615.91 412.00,616.10 C412.64,616.29 413.67,614.71 414.50,614.80 C415.44,614.90 416.47,616.35 417.30,617.10 C418.01,617.75 418.54,618.23 419.20,619.00 C420.08,620.02 420.94,622.55 422.00,622.80 C422.88,623.01 423.94,621.79 424.90,621.30 C425.84,620.82 426.70,619.90 427.70,619.90 C428.87,619.90 430.20,621.49 431.50,621.80 C432.73,622.09 434.04,621.70 435.30,621.80 C436.57,621.90 437.95,622.59 439.10,622.40 C440.16,622.23 441.04,621.64 442.00,620.90 C443.27,619.92 444.46,617.85 445.80,616.70 C447.00,615.67 448.41,614.86 449.60,614.20 C450.58,613.65 451.44,613.04 452.40,612.90 C453.34,612.76 454.82,613.23 455.30,613.30" fill="none" stroke="#0000ff" stroke-width="1.1" stroke-linejoin="round" stroke-linecap="round" clip-path="url(#cd)"/>
<rect x="217.9" y="616.1" width="15.6" height="53.3" fill="none" stroke="#ff0000" stroke-width="1"/>
<rect x="407.2" y="612.4" width="46.8" height="57.6" fill="none" stroke="#ff0000" stroke-width="1"/>
<rect x="213" y="610.4" width="242.3" height="84.2" fill="none" stroke="#222" stroke-width="1"/>
<line x1="223.4" y1="694.6" x2="223.4" y2="697.3" stroke="#222" stroke-width="0.9"/>
<text x="223.4" y="704.2" font-size="6.4" text-anchor="middle" fill="#333">600</text>
<line x1="264.5" y1="694.6" x2="264.5" y2="697.3" stroke="#222" stroke-width="0.9"/>
<text x="264.5" y="704.2" font-size="6.4" text-anchor="middle" fill="#333">800</text>
<line x1="305.6" y1="694.6" x2="305.6" y2="697.3" stroke="#222" stroke-width="0.9"/>
<text x="305.6" y="704.2" font-size="6.4" text-anchor="middle" fill="#333">1000</text>
<line x1="346.6" y1="694.6" x2="346.6" y2="697.3" stroke="#222" stroke-width="0.9"/>
<text x="346.6" y="704.2" font-size="6.4" text-anchor="middle" fill="#333">1200</text>
<line x1="387.7" y1="694.6" x2="387.7" y2="697.3" stroke="#222" stroke-width="0.9"/>
<text x="387.7" y="704.2" font-size="6.4" text-anchor="middle" fill="#333">1400</text>
<line x1="428.8" y1="694.6" x2="428.8" y2="697.3" stroke="#222" stroke-width="0.9"/>
<text x="428.8" y="704.2" font-size="6.4" text-anchor="middle" fill="#333">1600</text>
<line x1="243.9" y1="694.6" x2="243.9" y2="696.3" stroke="#222" stroke-width="0.9"/>
<line x1="285.0" y1="694.6" x2="285.0" y2="696.3" stroke="#222" stroke-width="0.9"/>
<line x1="326.1" y1="694.6" x2="326.1" y2="696.3" stroke="#222" stroke-width="0.9"/>
<line x1="367.2" y1="694.6" x2="367.2" y2="696.3" stroke="#222" stroke-width="0.9"/>
<line x1="408.3" y1="694.6" x2="408.3" y2="696.3" stroke="#222" stroke-width="0.9"/>
<line x1="449.3" y1="694.6" x2="449.3" y2="696.3" stroke="#222" stroke-width="0.9"/>
<text x="219.5" y="605.4" font-size="18" letter-spacing="1" fill="#000">d)</text>
</svg></body></html>
